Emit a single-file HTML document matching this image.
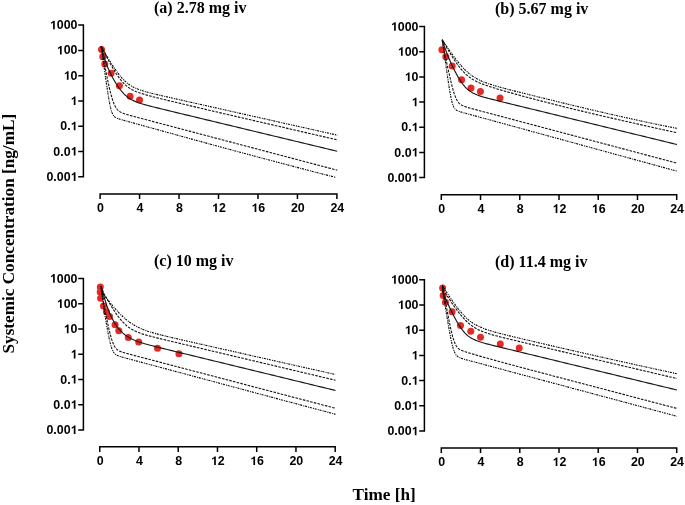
<!DOCTYPE html>
<html><head><meta charset="utf-8"><style>
html,body{margin:0;padding:0;background:#fff;}
body{width:685px;height:505px;overflow:hidden;position:relative;}
svg{position:absolute;left:0;top:0;filter:blur(0.35px);}
.tl{font-family:"Liberation Sans",sans-serif;font-weight:bold;font-size:12.4px;fill:#000;}
.tt{font-family:"Liberation Serif",serif;font-weight:bold;font-size:16px;fill:#000;}
.at{font-family:"Liberation Serif",serif;font-weight:bold;font-size:17.2px;fill:#000;}
.one{fill:transparent;}
</style></head><body>
<svg width="685" height="505" viewBox="0 0 685 505">
<path d="M78.20 25.10H83.40V176.80H78.20M78.20 50.38H83.40M78.20 75.67H83.40M78.20 100.95H83.40M78.20 126.23H83.40M78.20 151.52H83.40" stroke="#000" stroke-width="1.5" fill="none" stroke-linejoin="miter"/>
<text x="77.50" y="29.20" class="tl" text-anchor="end"><tspan class="one">1</tspan>000</text>
<text x="77.50" y="54.48" class="tl" text-anchor="end"><tspan class="one">1</tspan>00</text>
<text x="77.50" y="79.77" class="tl" text-anchor="end"><tspan class="one">1</tspan>0</text>
<text x="77.50" y="105.05" class="tl" text-anchor="end"><tspan class="one">1</tspan></text>
<text x="77.50" y="130.33" class="tl" text-anchor="end">0.<tspan class="one">1</tspan></text>
<text x="77.50" y="155.62" class="tl" text-anchor="end">0.0<tspan class="one">1</tspan></text>
<text x="77.50" y="180.90" class="tl" text-anchor="end">0.00<tspan class="one">1</tspan></text>
<path d="M100.10 199.10V193.90H336.90V199.10M139.57 193.90V199.10M179.03 193.90V199.10M218.50 193.90V199.10M257.97 193.90V199.10M297.43 193.90V199.10" stroke="#000" stroke-width="1.5" fill="none"/>
<text x="100.10" y="212.10" class="tl" text-anchor="middle" dx="0.4">0</text>
<text x="139.57" y="212.10" class="tl" text-anchor="middle" dx="0.4">4</text>
<text x="179.03" y="212.10" class="tl" text-anchor="middle" dx="0.4">8</text>
<text x="218.50" y="212.10" class="tl" text-anchor="middle" dx="0.4"><tspan class="one">1</tspan>2</text>
<text x="257.97" y="212.10" class="tl" text-anchor="middle" dx="0.4"><tspan class="one">1</tspan>6</text>
<text x="297.43" y="212.10" class="tl" text-anchor="middle" dx="0.4">20</text>
<text x="336.90" y="212.10" class="tl" text-anchor="middle" dx="0.4">24</text>
<text x="154.00" y="12.50" class="tt">(a) 2.78 mg iv</text>
<circle cx="101.5" cy="49.5" r="3.5" fill="#e42a24"/>
<circle cx="102.8" cy="56.7" r="3.5" fill="#e42a24"/>
<circle cx="104.8" cy="64.1" r="3.5" fill="#e42a24"/>
<circle cx="111.1" cy="73.2" r="3.5" fill="#e42a24"/>
<circle cx="119.4" cy="85.8" r="3.5" fill="#e42a24"/>
<circle cx="130.1" cy="96.3" r="3.5" fill="#e42a24"/>
<circle cx="139.5" cy="99.9" r="3.5" fill="#e42a24"/>
<polyline points="101.20,46.19 101.45,46.63 101.70,47.07 101.95,47.51 102.20,47.95 102.45,48.39 102.70,48.83 102.95,49.27 103.20,49.71 103.45,50.15 103.70,50.58 103.95,51.02 104.20,51.45 104.45,51.89 104.70,52.32 104.95,52.75 105.20,53.19 105.45,53.62 105.70,54.05 105.95,54.47 106.20,54.90 106.45,55.33 106.70,55.75 106.95,56.18 107.20,56.60 107.45,57.03 107.70,57.45 107.95,57.87 108.20,58.28 108.45,58.70 108.70,59.12 108.95,59.53 109.20,59.95 109.45,60.36 109.70,60.77 109.95,61.18 110.20,61.58 110.45,61.99 110.70,62.39 110.95,62.79 111.20,63.20 111.45,63.59 111.70,63.99 111.95,64.38 112.20,64.78 112.45,65.17 112.70,65.56 112.95,65.94 113.20,66.33 113.45,66.71 113.70,67.09 113.95,67.47 114.20,67.84 114.45,68.21 114.70,68.58 114.95,68.95 115.20,69.32 115.45,69.68 115.70,70.04 115.95,70.40 116.20,70.75 116.45,71.10 116.70,71.45 116.95,71.80 117.20,72.14 117.45,72.48 117.70,72.81 117.95,73.15 118.20,73.48 118.45,73.80 118.70,74.13 118.95,74.45 119.20,74.77 119.45,75.08 119.70,75.39 119.95,75.70 120.20,76.00 120.45,76.30 120.70,76.60 120.95,76.89 121.20,77.18 121.45,77.46 121.70,77.75 121.95,78.03 122.20,78.30 122.45,78.57 122.70,78.84 122.95,79.10 123.20,79.36 123.45,79.62 123.70,79.87 123.95,80.12 124.20,80.37 124.45,80.61 124.70,80.85 124.95,81.08 125.20,81.31 125.45,81.54 125.70,81.77 125.95,81.99 126.20,82.20 126.45,82.42 126.70,82.63 126.95,82.83 127.20,83.04 127.45,83.23 127.70,83.43 127.95,83.62 128.20,83.81 128.45,84.00 128.70,84.18 128.95,84.36 129.20,84.54 129.45,84.71 129.70,84.88 129.95,85.05 130.20,85.22 130.45,85.38 130.70,85.54 130.95,85.70 131.20,85.85 131.70,86.15 134.01,87.40 136.32,88.48 138.63,89.42 140.94,90.24 143.24,90.98 145.55,91.67 147.86,92.30 150.17,92.91 152.48,93.49 154.79,94.05 157.10,94.60 159.41,95.14 161.72,95.67 164.03,96.20 166.33,96.73 168.64,97.26 170.95,97.78 173.26,98.30 175.57,98.82 177.88,99.34 180.19,99.86 182.50,100.38 184.81,100.90 187.12,101.42 189.42,101.94 191.73,102.46 194.04,102.98 196.35,103.50 198.66,104.02 200.97,104.54 203.28,105.05 205.59,105.57 207.90,106.09 210.21,106.61 212.51,107.13 214.82,107.65 217.13,108.17 219.44,108.69 221.75,109.21 224.06,109.72 226.37,110.24 228.68,110.76 230.99,111.28 233.30,111.80 235.60,112.32 237.91,112.84 240.22,113.36 242.53,113.88 244.84,114.39 247.15,114.91 249.46,115.43 251.77,115.95 254.08,116.47 256.39,116.99 258.69,117.51 261.00,118.03 263.31,118.55 265.62,119.06 267.93,119.58 270.24,120.10 272.55,120.62 274.86,121.14 277.17,121.66 279.48,122.18 281.78,122.70 284.09,123.22 286.40,123.73 288.71,124.25 291.02,124.77 293.33,125.29 295.64,125.81 297.95,126.33 300.26,126.85 302.57,127.37 304.87,127.89 307.18,128.40 309.49,128.92 311.80,129.44 314.11,129.96 316.42,130.48 318.73,131.00 321.04,131.52 323.35,132.04 325.66,132.56 327.96,133.07 330.27,133.59 332.58,134.11 334.89,134.63 337.20,135.15" stroke="#000" stroke-width="1.1" stroke-dasharray="1 0.8 2 1.2" fill="none"/>
<polyline points="101.20,46.20 101.45,46.69 101.70,47.19 101.95,47.68 102.20,48.18 102.45,48.67 102.70,49.16 102.95,49.65 103.20,50.15 103.45,50.64 103.70,51.12 103.95,51.61 104.20,52.10 104.45,52.59 104.70,53.07 104.95,53.56 105.20,54.04 105.45,54.53 105.70,55.01 105.95,55.49 106.20,55.97 106.45,56.45 106.70,56.92 106.95,57.40 107.20,57.87 107.45,58.35 107.70,58.82 107.95,59.29 108.20,59.76 108.45,60.22 108.70,60.69 108.95,61.15 109.20,61.61 109.45,62.07 109.70,62.53 109.95,62.99 110.20,63.44 110.45,63.89 110.70,64.34 110.95,64.79 111.20,65.24 111.45,65.68 111.70,66.12 111.95,66.56 112.20,67.00 112.45,67.43 112.70,67.86 112.95,68.29 113.20,68.72 113.45,69.14 113.70,69.56 113.95,69.98 114.20,70.39 114.45,70.80 114.70,71.21 114.95,71.61 115.20,72.01 115.45,72.41 115.70,72.80 115.95,73.20 116.20,73.58 116.45,73.97 116.70,74.34 116.95,74.72 117.20,75.09 117.45,75.46 117.70,75.82 117.95,76.18 118.20,76.54 118.45,76.89 118.70,77.24 118.95,77.58 119.20,77.92 119.45,78.26 119.70,78.59 119.95,78.91 120.20,79.23 120.45,79.55 120.70,79.86 120.95,80.17 121.20,80.48 121.45,80.78 121.70,81.07 121.95,81.36 122.20,81.65 122.45,81.93 122.70,82.20 122.95,82.48 123.20,82.74 123.45,83.01 123.70,83.27 123.95,83.52 124.20,83.77 124.45,84.01 124.70,84.26 124.95,84.49 125.20,84.72 125.45,84.95 125.70,85.18 125.95,85.40 126.20,85.61 126.45,85.82 126.70,86.03 126.95,86.23 127.20,86.43 127.45,86.63 127.70,86.82 127.95,87.01 128.20,87.19 128.45,87.38 128.70,87.55 128.95,87.73 129.20,87.90 129.45,88.07 129.70,88.23 129.95,88.39 130.20,88.55 130.45,88.71 130.70,88.86 130.95,89.01 131.20,89.15 131.70,89.44 134.01,90.63 136.32,91.65 138.63,92.54 140.94,93.34 143.24,94.07 145.55,94.75 147.86,95.39 150.17,96.01 152.48,96.62 154.79,97.21 157.10,97.79 159.41,98.36 161.72,98.93 164.03,99.50 166.33,100.06 168.64,100.62 170.95,101.17 173.26,101.73 175.57,102.28 177.88,102.83 180.19,103.38 182.50,103.93 184.81,104.48 187.12,105.03 189.42,105.57 191.73,106.12 194.04,106.66 196.35,107.20 198.66,107.75 200.97,108.29 203.28,108.83 205.59,109.37 207.90,109.91 210.21,110.45 212.51,110.99 214.82,111.53 217.13,112.07 219.44,112.61 221.75,113.14 224.06,113.68 226.37,114.22 228.68,114.76 230.99,115.29 233.30,115.83 235.60,116.36 237.91,116.90 240.22,117.44 242.53,117.97 244.84,118.51 247.15,119.04 249.46,119.58 251.77,120.11 254.08,120.64 256.39,121.18 258.69,121.71 261.00,122.25 263.31,122.78 265.62,123.31 267.93,123.85 270.24,124.38 272.55,124.91 274.86,125.45 277.17,125.98 279.48,126.51 281.78,127.05 284.09,127.58 286.40,128.11 288.71,128.65 291.02,129.18 293.33,129.71 295.64,130.25 297.95,130.78 300.26,131.31 302.57,131.84 304.87,132.38 307.18,132.91 309.49,133.44 311.80,133.97 314.11,134.51 316.42,135.04 318.73,135.57 321.04,136.10 323.35,136.64 325.66,137.17 327.96,137.70 330.27,138.23 332.58,138.77 334.89,139.30 337.20,139.83" stroke="#111" stroke-width="1.1" stroke-dasharray="2.6 1.2" fill="none"/>
<polyline points="101.20,46.20 101.45,47.23 101.70,48.25 101.95,49.25 102.20,50.22 102.45,51.18 102.70,52.12 102.95,53.04 103.20,53.94 103.45,54.83 103.70,55.69 103.95,56.53 104.20,57.36 104.45,58.16 104.70,58.95 104.95,59.73 105.20,60.48 105.45,61.22 105.70,61.94 105.95,62.65 106.20,63.34 106.45,64.02 106.70,64.68 106.95,65.34 107.20,65.97 107.45,66.60 107.70,67.21 107.95,67.82 108.20,68.41 108.45,68.99 108.70,69.57 108.95,70.13 109.20,70.69 109.45,71.23 109.70,71.77 109.95,72.30 110.20,72.83 110.45,73.34 110.70,73.85 110.95,74.36 111.20,74.85 111.45,75.35 111.70,75.83 111.95,76.31 112.20,76.78 112.45,77.25 112.70,77.72 112.95,78.18 113.20,78.63 113.45,79.08 113.70,79.52 113.95,79.96 114.20,80.40 114.45,80.83 114.70,81.25 114.95,81.68 115.20,82.09 115.45,82.50 115.70,82.91 115.95,83.32 116.20,83.71 116.45,84.11 116.70,84.50 116.95,84.89 117.20,85.27 117.45,85.64 117.70,86.02 117.95,86.38 118.20,86.75 118.45,87.11 118.70,87.46 118.95,87.81 119.20,88.15 119.45,88.49 119.70,88.83 119.95,89.16 120.20,89.49 120.45,89.81 120.70,90.12 120.95,90.44 121.20,90.74 121.45,91.05 121.70,91.34 121.95,91.64 122.20,91.92 122.45,92.21 122.70,92.49 122.95,92.76 123.20,93.03 123.45,93.29 123.70,93.56 123.95,93.81 124.20,94.06 124.45,94.31 124.70,94.55 124.95,94.79 125.20,95.02 125.45,95.25 125.70,95.47 125.95,95.69 126.20,95.91 126.45,96.12 126.70,96.33 126.95,96.53 127.20,96.73 127.45,96.92 127.70,97.12 127.95,97.30 128.20,97.49 128.45,97.67 128.70,97.84 128.95,98.02 129.20,98.19 129.45,98.35 129.70,98.52 129.95,98.68 130.20,98.83 130.45,98.99 130.70,99.14 130.95,99.28 131.20,99.43 131.70,99.71 134.01,100.88 136.32,101.88 138.63,102.74 140.94,103.52 143.24,104.23 145.55,104.89 147.86,105.52 150.17,106.12 152.48,106.71 154.79,107.29 157.10,107.86 159.41,108.43 161.72,108.99 164.03,109.55 166.33,110.11 168.64,110.67 170.95,111.23 173.26,111.79 175.57,112.34 177.88,112.90 180.19,113.46 182.50,114.01 184.81,114.57 187.12,115.12 189.42,115.68 191.73,116.23 194.04,116.79 196.35,117.35 198.66,117.90 200.97,118.46 203.28,119.01 205.59,119.57 207.90,120.13 210.21,120.68 212.51,121.24 214.82,121.79 217.13,122.35 219.44,122.91 221.75,123.46 224.06,124.02 226.37,124.57 228.68,125.13 230.99,125.68 233.30,126.24 235.60,126.80 237.91,127.35 240.22,127.91 242.53,128.46 244.84,129.02 247.15,129.58 249.46,130.13 251.77,130.69 254.08,131.24 256.39,131.80 258.69,132.35 261.00,132.91 263.31,133.47 265.62,134.02 267.93,134.58 270.24,135.13 272.55,135.69 274.86,136.25 277.17,136.80 279.48,137.36 281.78,137.91 284.09,138.47 286.40,139.02 288.71,139.58 291.02,140.14 293.33,140.69 295.64,141.25 297.95,141.80 300.26,142.36 302.57,142.92 304.87,143.47 307.18,144.03 309.49,144.58 311.80,145.14 314.11,145.69 316.42,146.25 318.73,146.81 321.04,147.36 323.35,147.92 325.66,148.47 327.96,149.03 330.27,149.59 332.58,150.14 334.89,150.70 337.20,151.25" stroke="#181818" stroke-width="1.15" fill="none"/>
<polyline points="101.20,46.20 101.45,47.60 101.70,48.99 101.95,50.37 102.20,51.76 102.45,53.13 102.70,54.50 102.95,55.87 103.20,57.23 103.45,58.58 103.70,59.93 103.95,61.27 104.20,62.60 104.45,63.93 104.70,65.25 104.95,66.56 105.20,67.86 105.45,69.16 105.70,70.44 105.95,71.72 106.20,72.98 106.45,74.24 106.70,75.48 106.95,76.72 107.20,77.94 107.45,79.15 107.70,80.34 107.95,81.53 108.20,82.69 108.45,83.84 108.70,84.98 108.95,86.10 109.20,87.20 109.45,88.28 109.70,89.34 109.95,90.38 110.20,91.40 110.45,92.40 110.70,93.37 110.95,94.32 111.20,95.25 111.45,96.15 111.70,97.02 111.95,97.86 112.20,98.68 112.45,99.47 112.70,100.23 112.95,100.96 113.20,101.67 113.45,102.34 113.70,102.99 113.95,103.60 114.20,104.19 114.45,104.75 114.70,105.28 114.95,105.79 115.20,106.27 115.45,106.72 115.70,107.15 115.95,107.56 116.20,107.95 116.45,108.31 116.70,108.65 116.95,108.97 117.20,109.28 117.45,109.57 117.70,109.84 117.95,110.09 118.20,110.33 118.45,110.56 118.70,110.78 118.95,110.98 119.20,111.17 119.45,111.36 119.70,111.53 119.95,111.69 120.20,111.85 120.45,112.00 120.70,112.14 120.95,112.28 121.20,112.41 121.45,112.54 121.70,112.66 121.95,112.77 122.20,112.89 122.45,112.99 122.70,113.10 122.95,113.20 123.20,113.30 123.45,113.39 123.70,113.49 123.95,113.58 124.20,113.67 124.45,113.75 124.70,113.84 124.95,113.92 125.20,114.01 125.45,114.09 125.70,114.17 125.95,114.24 126.20,114.32 126.45,114.40 126.70,114.47 126.95,114.55 127.20,114.62 127.45,114.70 127.70,114.77 127.95,114.84 128.20,114.91 128.45,114.98 128.70,115.06 128.95,115.13 129.20,115.20 129.45,115.27 129.70,115.34 129.95,115.40 130.20,115.47 130.45,115.54 130.70,115.61 130.95,115.68 131.20,115.75 131.70,115.88 134.01,116.50 136.32,117.12 138.63,117.73 140.94,118.34 143.24,118.95 145.55,119.56 147.86,120.17 150.17,120.78 152.48,121.39 154.79,122.00 157.10,122.61 159.41,123.22 161.72,123.83 164.03,124.44 166.33,125.05 168.64,125.66 170.95,126.27 173.26,126.88 175.57,127.49 177.88,128.10 180.19,128.71 182.50,129.32 184.81,129.93 187.12,130.54 189.42,131.15 191.73,131.76 194.04,132.37 196.35,132.98 198.66,133.59 200.97,134.20 203.28,134.81 205.59,135.42 207.90,136.03 210.21,136.64 212.51,137.25 214.82,137.86 217.13,138.47 219.44,139.08 221.75,139.69 224.06,140.30 226.37,140.91 228.68,141.52 230.99,142.13 233.30,142.74 235.60,143.35 237.91,143.96 240.22,144.57 242.53,145.18 244.84,145.79 247.15,146.40 249.46,147.01 251.77,147.62 254.08,148.23 256.39,148.84 258.69,149.45 261.00,150.06 263.31,150.67 265.62,151.28 267.93,151.89 270.24,152.50 272.55,153.11 274.86,153.72 277.17,154.33 279.48,154.94 281.78,155.55 284.09,156.17 286.40,156.78 288.71,157.39 291.02,158.00 293.33,158.61 295.64,159.22 297.95,159.83 300.26,160.44 302.57,161.05 304.87,161.66 307.18,162.27 309.49,162.88 311.80,163.49 314.11,164.10 316.42,164.71 318.73,165.32 321.04,165.93 323.35,166.54 325.66,167.15 327.96,167.76 330.27,168.37 332.58,168.98 334.89,169.59 337.20,170.20" stroke="#111" stroke-width="1.1" stroke-dasharray="2.6 1.2" fill="none"/>
<polyline points="101.20,46.20 101.45,48.01 101.70,49.81 101.95,51.62 102.20,53.42 102.45,55.22 102.70,57.03 102.95,58.83 103.20,60.63 103.45,62.42 103.70,64.22 103.95,66.01 104.20,67.80 104.45,69.58 104.70,71.36 104.95,73.14 105.20,74.91 105.45,76.67 105.70,78.42 105.95,80.17 106.20,81.90 106.45,83.63 106.70,85.33 106.95,87.02 107.20,88.70 107.45,90.35 107.70,91.97 107.95,93.57 108.20,95.14 108.45,96.67 108.70,98.16 108.95,99.61 109.20,101.01 109.45,102.36 109.70,103.65 109.95,104.89 110.20,106.06 110.45,107.17 110.70,108.21 110.95,109.18 111.20,110.08 111.45,110.91 111.70,111.68 111.95,112.38 112.20,113.02 112.45,113.60 112.70,114.12 112.95,114.59 113.20,115.02 113.45,115.40 113.70,115.75 113.95,116.06 114.20,116.34 114.45,116.59 114.70,116.81 114.95,117.02 115.20,117.21 115.45,117.38 115.70,117.54 115.95,117.68 116.20,117.81 116.45,117.94 116.70,118.06 116.95,118.17 117.20,118.27 117.45,118.37 117.70,118.47 117.95,118.56 118.20,118.65 118.45,118.73 118.70,118.81 118.95,118.90 119.20,118.98 119.45,119.05 119.70,119.13 119.95,119.21 120.20,119.28 120.45,119.35 120.70,119.43 120.95,119.50 121.20,119.57 121.45,119.65 121.70,119.72 121.95,119.79 122.20,119.86 122.45,119.93 122.70,120.00 122.95,120.07 123.20,120.14 123.45,120.21 123.70,120.28 123.95,120.35 124.20,120.42 124.45,120.49 124.70,120.56 124.95,120.63 125.20,120.70 125.45,120.77 125.70,120.84 125.95,120.91 126.20,120.98 126.45,121.05 126.70,121.12 126.95,121.19 127.20,121.26 127.45,121.33 127.70,121.40 127.95,121.47 128.20,121.54 128.45,121.61 128.70,121.68 128.95,121.75 129.20,121.82 129.45,121.89 129.70,121.96 129.95,122.02 130.20,122.09 130.45,122.16 130.70,122.23 130.95,122.30 131.20,122.37 131.70,122.51 134.01,123.15 136.32,123.79 138.63,124.44 140.94,125.08 143.24,125.72 145.55,126.36 147.86,127.00 150.17,127.64 152.48,128.28 154.79,128.92 157.10,129.55 159.41,130.19 161.72,130.83 164.03,131.47 166.33,132.11 168.64,132.74 170.95,133.38 173.26,134.02 175.57,134.65 177.88,135.29 180.19,135.92 182.50,136.56 184.81,137.19 187.12,137.83 189.42,138.46 191.73,139.10 194.04,139.73 196.35,140.36 198.66,140.99 200.97,141.62 203.28,142.26 205.59,142.89 207.90,143.52 210.21,144.15 212.51,144.77 214.82,145.40 217.13,146.03 219.44,146.66 221.75,147.29 224.06,147.91 226.37,148.54 228.68,149.16 230.99,149.79 233.30,150.41 235.60,151.04 237.91,151.66 240.22,152.28 242.53,152.90 244.84,153.53 247.15,154.15 249.46,154.77 251.77,155.38 254.08,156.00 256.39,156.62 258.69,157.24 261.00,157.85 263.31,158.47 265.62,159.08 267.93,159.70 270.24,160.31 272.55,160.92 274.86,161.54 277.17,162.15 279.48,162.76 281.78,163.37 284.09,163.98 286.40,164.58 288.71,165.19 291.02,165.80 293.33,166.40 295.64,167.00 297.95,167.61 300.26,168.21 302.57,168.81 304.87,169.41 307.18,170.01 309.49,170.61 311.80,171.21 314.11,171.80 316.42,172.40 318.73,172.99 321.04,173.59 323.35,174.18 325.66,174.77 327.96,175.36 330.27,175.95 332.58,176.54 334.89,177.12 335.98,177.40" stroke="#000" stroke-width="1.1" stroke-dasharray="1 0.8 2 1.2" fill="none"/>
<path d="M419.20 26.60H424.40V177.60H419.20M419.20 51.77H424.40M419.20 76.93H424.40M419.20 102.10H424.40M419.20 127.27H424.40M419.20 152.43H424.40" stroke="#000" stroke-width="1.5" fill="none" stroke-linejoin="miter"/>
<text x="418.50" y="30.70" class="tl" text-anchor="end"><tspan class="one">1</tspan>000</text>
<text x="418.50" y="55.87" class="tl" text-anchor="end"><tspan class="one">1</tspan>00</text>
<text x="418.50" y="81.03" class="tl" text-anchor="end"><tspan class="one">1</tspan>0</text>
<text x="418.50" y="106.20" class="tl" text-anchor="end"><tspan class="one">1</tspan></text>
<text x="418.50" y="131.37" class="tl" text-anchor="end">0.<tspan class="one">1</tspan></text>
<text x="418.50" y="156.53" class="tl" text-anchor="end">0.0<tspan class="one">1</tspan></text>
<text x="418.50" y="181.70" class="tl" text-anchor="end">0.00<tspan class="one">1</tspan></text>
<path d="M441.30 199.90V194.70H676.70V199.90M480.53 194.70V199.90M519.77 194.70V199.90M559.00 194.70V199.90M598.23 194.70V199.90M637.47 194.70V199.90" stroke="#000" stroke-width="1.5" fill="none"/>
<text x="441.30" y="212.90" class="tl" text-anchor="middle" dx="0.4">0</text>
<text x="480.53" y="212.90" class="tl" text-anchor="middle" dx="0.4">4</text>
<text x="519.77" y="212.90" class="tl" text-anchor="middle" dx="0.4">8</text>
<text x="559.00" y="212.90" class="tl" text-anchor="middle" dx="0.4"><tspan class="one">1</tspan>2</text>
<text x="598.23" y="212.90" class="tl" text-anchor="middle" dx="0.4"><tspan class="one">1</tspan>6</text>
<text x="637.47" y="212.90" class="tl" text-anchor="middle" dx="0.4">20</text>
<text x="676.70" y="212.90" class="tl" text-anchor="middle" dx="0.4">24</text>
<text x="495.00" y="13.50" class="tt">(b) 5.67 mg iv</text>
<circle cx="441.9" cy="49.7" r="3.5" fill="#e42a24"/>
<circle cx="445.8" cy="56.8" r="3.5" fill="#e42a24"/>
<circle cx="452.2" cy="65.9" r="3.5" fill="#e42a24"/>
<circle cx="461.6" cy="79.7" r="3.5" fill="#e42a24"/>
<circle cx="471.0" cy="88.0" r="3.5" fill="#e42a24"/>
<circle cx="480.4" cy="91.4" r="3.5" fill="#e42a24"/>
<circle cx="500.0" cy="98.1" r="3.5" fill="#e42a24"/>
<polyline points="442.30,39.80 442.55,40.18 442.80,40.55 443.05,40.93 443.30,41.31 443.55,41.69 443.80,42.07 444.05,42.44 444.30,42.82 444.55,43.19 444.80,43.57 445.05,43.94 445.30,44.32 445.55,44.69 445.80,45.06 446.05,45.43 446.30,45.80 446.55,46.17 446.80,46.54 447.05,46.91 447.30,47.28 447.55,47.64 447.80,48.01 448.05,48.38 448.30,48.74 448.55,49.10 448.80,49.47 449.05,49.83 449.30,50.19 449.55,50.55 449.80,50.91 450.05,51.26 450.30,51.62 450.55,51.98 450.80,52.33 451.05,52.69 451.30,53.04 451.55,53.39 451.80,53.74 452.05,54.09 452.30,54.43 452.55,54.78 452.80,55.12 453.05,55.47 453.30,55.81 453.55,56.15 453.80,56.49 454.05,56.83 454.30,57.16 454.55,57.50 454.80,57.83 455.05,58.16 455.30,58.49 455.55,58.82 455.80,59.15 456.05,59.48 456.30,59.80 456.55,60.12 456.80,60.44 457.05,60.76 457.30,61.07 457.55,61.39 457.80,61.70 458.05,62.01 458.30,62.32 458.55,62.63 458.80,62.93 459.05,63.23 459.30,63.54 459.55,63.83 459.80,64.13 460.05,64.42 460.30,64.72 460.55,65.01 460.80,65.29 461.05,65.58 461.30,65.86 461.55,66.14 461.80,66.42 462.05,66.70 462.30,66.97 462.55,67.24 462.80,67.51 463.05,67.78 463.30,68.05 463.55,68.31 463.80,68.57 464.05,68.82 464.30,69.08 464.55,69.33 464.80,69.58 465.05,69.83 465.30,70.07 465.55,70.31 465.80,70.55 466.05,70.79 466.30,71.03 466.55,71.26 466.80,71.49 467.05,71.71 467.30,71.94 467.55,72.16 467.80,72.38 468.05,72.60 468.30,72.81 468.55,73.02 468.80,73.23 469.05,73.44 469.30,73.64 469.55,73.84 469.80,74.04 470.05,74.24 470.30,74.44 470.55,74.63 470.80,74.82 471.05,75.01 471.30,75.19 471.55,75.37 471.80,75.55 472.05,75.73 472.30,75.91 472.80,76.25 475.09,77.72 477.39,79.03 479.68,80.19 481.98,81.24 484.27,82.18 486.57,83.04 488.86,83.84 491.16,84.59 493.45,85.30 495.74,85.98 498.04,86.63 500.33,87.27 502.63,87.89 504.92,88.50 507.22,89.10 509.51,89.69 511.80,90.28 514.10,90.87 516.39,91.45 518.69,92.03 520.98,92.61 523.28,93.19 525.57,93.76 527.87,94.33 530.16,94.91 532.45,95.48 534.75,96.05 537.04,96.62 539.34,97.18 541.63,97.75 543.93,98.32 546.22,98.88 548.51,99.45 550.81,100.01 553.10,100.57 555.40,101.13 557.69,101.69 559.99,102.25 562.28,102.81 564.58,103.36 566.87,103.92 569.16,104.47 571.46,105.03 573.75,105.58 576.05,106.13 578.34,106.68 580.64,107.22 582.93,107.77 585.22,108.32 587.52,108.86 589.81,109.40 592.11,109.94 594.40,110.48 596.70,111.01 598.99,111.55 601.29,112.08 603.58,112.61 605.87,113.14 608.17,113.67 610.46,114.20 612.76,114.72 615.05,115.24 617.35,115.76 619.64,116.28 621.93,116.79 624.23,117.31 626.52,117.82 628.82,118.32 631.11,118.83 633.41,119.33 635.70,119.83 638.00,120.33 640.29,120.83 642.58,121.32 644.88,121.81 647.17,122.30 649.47,122.78 651.76,123.27 654.06,123.75 656.35,124.22 658.64,124.70 660.94,125.17 663.23,125.63 665.53,126.10 667.82,126.56 670.12,127.02 672.41,127.47 674.71,127.92 677.00,128.37" stroke="#000" stroke-width="1.1" stroke-dasharray="1 0.8 2 1.2" fill="none"/>
<polyline points="442.30,39.78 442.55,40.23 442.80,40.67 443.05,41.12 443.30,41.56 443.55,42.01 443.80,42.45 444.05,42.89 444.30,43.33 444.55,43.77 444.80,44.21 445.05,44.65 445.30,45.08 445.55,45.52 445.80,45.95 446.05,46.39 446.30,46.82 446.55,47.25 446.80,47.68 447.05,48.11 447.30,48.54 447.55,48.97 447.80,49.40 448.05,49.82 448.30,50.24 448.55,50.67 448.80,51.09 449.05,51.51 449.30,51.92 449.55,52.34 449.80,52.75 450.05,53.17 450.30,53.58 450.55,53.99 450.80,54.40 451.05,54.80 451.30,55.21 451.55,55.61 451.80,56.01 452.05,56.41 452.30,56.81 452.55,57.20 452.80,57.59 453.05,57.98 453.30,58.37 453.55,58.76 453.80,59.14 454.05,59.52 454.30,59.90 454.55,60.28 454.80,60.65 455.05,61.02 455.30,61.39 455.55,61.76 455.80,62.12 456.05,62.48 456.30,62.84 456.55,63.20 456.80,63.55 457.05,63.90 457.30,64.25 457.55,64.59 457.80,64.93 458.05,65.27 458.30,65.61 458.55,65.94 458.80,66.27 459.05,66.59 459.30,66.91 459.55,67.23 459.80,67.55 460.05,67.86 460.30,68.17 460.55,68.48 460.80,68.78 461.05,69.08 461.30,69.37 461.55,69.67 461.80,69.96 462.05,70.24 462.30,70.52 462.55,70.80 462.80,71.08 463.05,71.35 463.30,71.62 463.55,71.88 463.80,72.14 464.05,72.40 464.30,72.65 464.55,72.90 464.80,73.15 465.05,73.40 465.30,73.64 465.55,73.87 465.80,74.11 466.05,74.34 466.30,74.56 466.55,74.79 466.80,75.01 467.05,75.23 467.30,75.44 467.55,75.65 467.80,75.86 468.05,76.06 468.30,76.27 468.55,76.46 468.80,76.66 469.05,76.85 469.30,77.04 469.55,77.23 469.80,77.41 470.05,77.59 470.30,77.77 470.55,77.95 470.80,78.12 471.05,78.29 471.30,78.46 471.55,78.63 471.80,78.79 472.05,78.95 472.30,79.11 472.80,79.42 475.09,80.73 477.39,81.89 479.68,82.93 481.98,83.87 484.27,84.74 486.57,85.56 488.86,86.33 491.16,87.07 493.45,87.79 495.74,88.49 498.04,89.18 500.33,89.85 502.63,90.52 504.92,91.18 507.22,91.83 509.51,92.48 511.80,93.12 514.10,93.75 516.39,94.39 518.69,95.01 520.98,95.64 523.28,96.26 525.57,96.88 527.87,97.49 530.16,98.10 532.45,98.71 534.75,99.31 537.04,99.91 539.34,100.51 541.63,101.11 543.93,101.70 546.22,102.29 548.51,102.88 550.81,103.46 553.10,104.04 555.40,104.62 557.69,105.20 559.99,105.77 562.28,106.34 564.58,106.91 566.87,107.48 569.16,108.04 571.46,108.60 573.75,109.16 576.05,109.72 578.34,110.27 580.64,110.83 582.93,111.38 585.22,111.92 587.52,112.47 589.81,113.02 592.11,113.56 594.40,114.10 596.70,114.64 598.99,115.18 601.29,115.71 603.58,116.25 605.87,116.78 608.17,117.31 610.46,117.84 612.76,118.37 615.05,118.90 617.35,119.43 619.64,119.95 621.93,120.47 624.23,121.00 626.52,121.52 628.82,122.04 631.11,122.55 633.41,123.07 635.70,123.59 638.00,124.10 640.29,124.62 642.58,125.13 644.88,125.64 647.17,126.16 649.47,126.67 651.76,127.18 654.06,127.68 656.35,128.19 658.64,128.70 660.94,129.21 663.23,129.71 665.53,130.22 667.82,130.72 670.12,131.23 672.41,131.73 674.71,132.23 677.00,132.73" stroke="#111" stroke-width="1.1" stroke-dasharray="2.6 1.2" fill="none"/>
<polyline points="442.30,39.80 442.55,40.64 442.80,41.46 443.05,42.27 443.30,43.07 443.55,43.85 443.80,44.62 444.05,45.38 444.30,46.13 444.55,46.87 444.80,47.59 445.05,48.31 445.30,49.01 445.55,49.71 445.80,50.39 446.05,51.07 446.30,51.74 446.55,52.40 446.80,53.05 447.05,53.69 447.30,54.33 447.55,54.96 447.80,55.58 448.05,56.19 448.30,56.80 448.55,57.40 448.80,58.00 449.05,58.59 449.30,59.18 449.55,59.76 449.80,60.33 450.05,60.90 450.30,61.47 450.55,62.03 450.80,62.59 451.05,63.14 451.30,63.69 451.55,64.23 451.80,64.77 452.05,65.30 452.30,65.83 452.55,66.36 452.80,66.88 453.05,67.40 453.30,67.92 453.55,68.43 453.80,68.93 454.05,69.44 454.30,69.94 454.55,70.43 454.80,70.92 455.05,71.41 455.30,71.89 455.55,72.37 455.80,72.84 456.05,73.31 456.30,73.77 456.55,74.23 456.80,74.69 457.05,75.14 457.30,75.59 457.55,76.03 457.80,76.47 458.05,76.90 458.30,77.33 458.55,77.75 458.80,78.17 459.05,78.58 459.30,78.99 459.55,79.39 459.80,79.78 460.05,80.17 460.30,80.56 460.55,80.94 460.80,81.31 461.05,81.68 461.30,82.05 461.55,82.40 461.80,82.76 462.05,83.10 462.30,83.44 462.55,83.78 462.80,84.11 463.05,84.43 463.30,84.74 463.55,85.06 463.80,85.36 464.05,85.66 464.30,85.95 464.55,86.24 464.80,86.52 465.05,86.80 465.30,87.07 465.55,87.34 465.80,87.60 466.05,87.85 466.30,88.10 466.55,88.34 466.80,88.58 467.05,88.81 467.30,89.04 467.55,89.26 467.80,89.48 468.05,89.69 468.30,89.90 468.55,90.10 468.80,90.30 469.05,90.49 469.30,90.68 469.55,90.87 469.80,91.05 470.05,91.22 470.30,91.40 470.55,91.56 470.80,91.73 471.05,91.89 471.30,92.05 471.55,92.20 471.80,92.35 472.05,92.50 472.30,92.64 472.80,92.92 475.09,94.06 477.39,95.01 479.68,95.84 481.98,96.58 484.27,97.26 486.57,97.90 488.86,98.51 491.16,99.10 493.45,99.68 495.74,100.26 498.04,100.83 500.33,101.39 502.63,101.96 504.92,102.52 507.22,103.08 509.51,103.64 511.80,104.20 514.10,104.76 516.39,105.32 518.69,105.89 520.98,106.45 523.28,107.01 525.57,107.57 527.87,108.13 530.16,108.69 532.45,109.25 534.75,109.81 537.04,110.36 539.34,110.92 541.63,111.48 543.93,112.04 546.22,112.60 548.51,113.16 550.81,113.72 553.10,114.28 555.40,114.84 557.69,115.40 559.99,115.96 562.28,116.52 564.58,117.08 566.87,117.64 569.16,118.20 571.46,118.76 573.75,119.32 576.05,119.88 578.34,120.44 580.64,121.00 582.93,121.56 585.22,122.12 587.52,122.68 589.81,123.24 592.11,123.80 594.40,124.36 596.70,124.92 598.99,125.48 601.29,126.04 603.58,126.60 605.87,127.16 608.17,127.72 610.46,128.28 612.76,128.84 615.05,129.40 617.35,129.96 619.64,130.52 621.93,131.08 624.23,131.64 626.52,132.20 628.82,132.76 631.11,133.32 633.41,133.88 635.70,134.44 638.00,135.00 640.29,135.56 642.58,136.12 644.88,136.68 647.17,137.24 649.47,137.80 651.76,138.36 654.06,138.92 656.35,139.48 658.64,140.04 660.94,140.60 663.23,141.16 665.53,141.72 667.82,142.28 670.12,142.84 672.41,143.40 674.71,143.96 677.00,144.52" stroke="#181818" stroke-width="1.15" fill="none"/>
<polyline points="442.30,39.80 442.55,43.27 442.80,44.46 443.05,45.64 443.30,46.83 443.55,48.01 443.80,49.19 444.05,50.37 444.30,51.55 444.55,52.73 444.80,53.91 445.05,55.08 445.30,56.26 445.55,57.43 445.80,58.60 446.05,59.77 446.30,60.93 446.55,62.10 446.80,63.26 447.05,64.41 447.30,65.57 447.55,66.71 447.80,67.86 448.05,69.00 448.30,70.13 448.55,71.26 448.80,72.39 449.05,73.50 449.30,74.61 449.55,75.71 449.80,76.80 450.05,77.89 450.30,78.96 450.55,80.02 450.80,81.06 451.05,82.10 451.30,83.12 451.55,84.12 451.80,85.11 452.05,86.08 452.30,87.03 452.55,87.96 452.80,88.87 453.05,89.75 453.30,90.62 453.55,91.46 453.80,92.27 454.05,93.06 454.30,93.82 454.55,94.55 454.80,95.26 455.05,95.94 455.30,96.58 455.55,97.20 455.80,97.79 456.05,98.35 456.30,98.89 456.55,99.39 456.80,99.87 457.05,100.32 457.30,100.75 457.55,101.15 457.80,101.53 458.05,101.88 458.30,102.22 458.55,102.53 458.80,102.82 459.05,103.10 459.30,103.36 459.55,103.60 459.80,103.83 460.05,104.04 460.30,104.24 460.55,104.43 460.80,104.61 461.05,104.78 461.30,104.94 461.55,105.09 461.80,105.24 462.05,105.37 462.30,105.50 462.55,105.63 462.80,105.75 463.05,105.86 463.30,105.97 463.55,106.08 463.80,106.18 464.05,106.28 464.30,106.37 464.55,106.46 464.80,106.55 465.05,106.64 465.30,106.73 465.55,106.81 465.80,106.89 466.05,106.97 466.30,107.05 466.55,107.13 466.80,107.21 467.05,107.28 467.30,107.36 467.55,107.43 467.80,107.51 468.05,107.58 468.30,107.65 468.55,107.72 468.80,107.79 469.05,107.87 469.30,107.94 469.55,108.01 469.80,108.07 470.05,108.14 470.30,108.21 470.55,108.28 470.80,108.35 471.05,108.42 471.30,108.49 471.55,108.55 471.80,108.62 472.05,108.69 472.30,108.76 472.80,108.89 475.09,109.51 477.39,110.12 479.68,110.73 481.98,111.34 484.27,111.95 486.57,112.56 488.86,113.17 491.16,113.78 493.45,114.39 495.74,115.00 498.04,115.61 500.33,116.22 502.63,116.83 504.92,117.44 507.22,118.05 509.51,118.66 511.80,119.27 514.10,119.88 516.39,120.49 518.69,121.10 520.98,121.71 523.28,122.31 525.57,122.92 527.87,123.53 530.16,124.14 532.45,124.75 534.75,125.36 537.04,125.97 539.34,126.58 541.63,127.19 543.93,127.80 546.22,128.41 548.51,129.02 550.81,129.63 553.10,130.24 555.40,130.85 557.69,131.46 559.99,132.07 562.28,132.68 564.58,133.29 566.87,133.90 569.16,134.51 571.46,135.12 573.75,135.73 576.05,136.34 578.34,136.95 580.64,137.56 582.93,138.17 585.22,138.78 587.52,139.39 589.81,140.00 592.11,140.61 594.40,141.22 596.70,141.83 598.99,142.44 601.29,143.05 603.58,143.66 605.87,144.27 608.17,144.87 610.46,145.48 612.76,146.09 615.05,146.70 617.35,147.31 619.64,147.92 621.93,148.53 624.23,149.14 626.52,149.75 628.82,150.36 631.11,150.97 633.41,151.58 635.70,152.19 638.00,152.80 640.29,153.41 642.58,154.02 644.88,154.63 647.17,155.24 649.47,155.85 651.76,156.46 654.06,157.07 656.35,157.68 658.64,158.29 660.94,158.90 663.23,159.51 665.53,160.12 667.82,160.73 670.12,161.34 672.41,161.95 674.71,162.56 677.00,163.17" stroke="#111" stroke-width="1.1" stroke-dasharray="2.6 1.2" fill="none"/>
<polyline points="442.30,39.80 442.55,41.59 442.80,43.38 443.05,45.16 443.30,46.95 443.55,48.74 443.80,50.52 444.05,52.31 444.30,54.09 444.55,55.87 444.80,57.65 445.05,59.42 445.30,61.19 445.55,62.96 445.80,64.72 446.05,66.48 446.30,68.23 446.55,69.98 446.80,71.71 447.05,73.44 447.30,75.16 447.55,76.86 447.80,78.55 448.05,80.23 448.30,81.88 448.55,83.51 448.80,85.12 449.05,86.70 449.30,88.25 449.55,89.76 449.80,91.24 450.05,92.67 450.30,94.05 450.55,95.38 450.80,96.66 451.05,97.88 451.30,99.03 451.55,100.12 451.80,101.15 452.05,102.11 452.30,103.00 452.55,103.82 452.80,104.57 453.05,105.26 453.30,105.89 453.55,106.47 453.80,106.98 454.05,107.45 454.30,107.87 454.55,108.25 454.80,108.59 455.05,108.90 455.30,109.17 455.55,109.42 455.80,109.65 456.05,109.85 456.30,110.03 456.55,110.20 456.80,110.36 457.05,110.50 457.30,110.63 457.55,110.76 457.80,110.87 458.05,110.98 458.30,111.09 458.55,111.18 458.80,111.28 459.05,111.37 459.30,111.46 459.55,111.54 459.80,111.62 460.05,111.70 460.30,111.78 460.55,111.86 460.80,111.93 461.05,112.01 461.30,112.08 461.55,112.15 461.80,112.23 462.05,112.30 462.30,112.37 462.55,112.44 462.80,112.51 463.05,112.58 463.30,112.65 463.55,112.72 463.80,112.79 464.05,112.86 464.30,112.93 464.55,113.00 464.80,113.07 465.05,113.14 465.30,113.21 465.55,113.27 465.80,113.34 466.05,113.41 466.30,113.48 466.55,113.55 466.80,113.62 467.05,113.69 467.30,113.75 467.55,113.82 467.80,113.89 468.05,113.96 468.30,114.03 468.55,114.10 468.80,114.17 469.05,114.23 469.30,114.30 469.55,114.37 469.80,114.44 470.05,114.51 470.30,114.58 470.55,114.64 470.80,114.71 471.05,114.78 471.30,114.85 471.55,114.92 471.80,114.99 472.05,115.06 472.30,115.12 472.80,115.26 475.09,115.89 477.39,116.52 479.68,117.15 481.98,117.77 484.27,118.40 486.57,119.03 488.86,119.66 491.16,120.29 493.45,120.91 495.74,121.54 498.04,122.17 500.33,122.80 502.63,123.43 504.92,124.06 507.22,124.68 509.51,125.31 511.80,125.94 514.10,126.57 516.39,127.20 518.69,127.82 520.98,128.45 523.28,129.08 525.57,129.71 527.87,130.34 530.16,130.97 532.45,131.59 534.75,132.22 537.04,132.85 539.34,133.48 541.63,134.11 543.93,134.73 546.22,135.36 548.51,135.99 550.81,136.62 553.10,137.25 555.40,137.87 557.69,138.50 559.99,139.13 562.28,139.76 564.58,140.39 566.87,141.02 569.16,141.64 571.46,142.27 573.75,142.90 576.05,143.53 578.34,144.16 580.64,144.78 582.93,145.41 585.22,146.04 587.52,146.67 589.81,147.30 592.11,147.93 594.40,148.55 596.70,149.18 598.99,149.81 601.29,150.44 603.58,151.07 605.87,151.69 608.17,152.32 610.46,152.95 612.76,153.58 615.05,154.21 617.35,154.84 619.64,155.46 621.93,156.09 624.23,156.72 626.52,157.35 628.82,157.98 631.11,158.60 633.41,159.23 635.70,159.86 638.00,160.49 640.29,161.12 642.58,161.75 644.88,162.37 647.17,163.00 649.47,163.63 651.76,164.26 654.06,164.89 656.35,165.51 658.64,166.14 660.94,166.77 663.23,167.40 665.53,168.03 667.82,168.65 670.12,169.28 672.41,169.91 674.71,170.54 677.00,171.17" stroke="#000" stroke-width="1.1" stroke-dasharray="1 0.8 2 1.2" fill="none"/>
<path d="M78.20 278.55H83.40V430.00H78.20M78.20 303.79H83.40M78.20 329.03H83.40M78.20 354.27H83.40M78.20 379.52H83.40M78.20 404.76H83.40" stroke="#000" stroke-width="1.5" fill="none" stroke-linejoin="miter"/>
<text x="77.50" y="282.65" class="tl" text-anchor="end"><tspan class="one">1</tspan>000</text>
<text x="77.50" y="307.89" class="tl" text-anchor="end"><tspan class="one">1</tspan>00</text>
<text x="77.50" y="333.13" class="tl" text-anchor="end"><tspan class="one">1</tspan>0</text>
<text x="77.50" y="358.38" class="tl" text-anchor="end"><tspan class="one">1</tspan></text>
<text x="77.50" y="383.62" class="tl" text-anchor="end">0.<tspan class="one">1</tspan></text>
<text x="77.50" y="408.86" class="tl" text-anchor="end">0.0<tspan class="one">1</tspan></text>
<text x="77.50" y="434.10" class="tl" text-anchor="end">0.00<tspan class="one">1</tspan></text>
<path d="M99.74 452.00V446.80H335.20V452.00M138.98 446.80V452.00M178.23 446.80V452.00M217.47 446.80V452.00M256.71 446.80V452.00M295.96 446.80V452.00" stroke="#000" stroke-width="1.5" fill="none"/>
<text x="99.74" y="465.00" class="tl" text-anchor="middle" dx="0.4">0</text>
<text x="138.98" y="465.00" class="tl" text-anchor="middle" dx="0.4">4</text>
<text x="178.23" y="465.00" class="tl" text-anchor="middle" dx="0.4">8</text>
<text x="217.47" y="465.00" class="tl" text-anchor="middle" dx="0.4"><tspan class="one">1</tspan>2</text>
<text x="256.71" y="465.00" class="tl" text-anchor="middle" dx="0.4"><tspan class="one">1</tspan>6</text>
<text x="295.96" y="465.00" class="tl" text-anchor="middle" dx="0.4">20</text>
<text x="335.20" y="465.00" class="tl" text-anchor="middle" dx="0.4">24</text>
<text x="154.00" y="265.90" class="tt">(c) 10 mg iv</text>
<circle cx="100.3" cy="287.0" r="3.5" fill="#e42a24"/>
<circle cx="100.2" cy="292.0" r="3.5" fill="#e42a24"/>
<circle cx="100.6" cy="298.3" r="3.5" fill="#e42a24"/>
<circle cx="103.5" cy="306.1" r="3.5" fill="#e42a24"/>
<circle cx="106.4" cy="311.7" r="3.5" fill="#e42a24"/>
<circle cx="109.5" cy="316.6" r="3.5" fill="#e42a24"/>
<circle cx="115.1" cy="324.7" r="3.5" fill="#e42a24"/>
<circle cx="118.8" cy="330.8" r="3.5" fill="#e42a24"/>
<circle cx="128.3" cy="337.4" r="3.5" fill="#e42a24"/>
<circle cx="138.7" cy="341.9" r="3.5" fill="#e42a24"/>
<circle cx="157.5" cy="348.3" r="3.5" fill="#e42a24"/>
<circle cx="178.9" cy="353.8" r="3.5" fill="#e42a24"/>
<polyline points="101.20,286.20 101.45,291.55 101.70,291.88 101.95,292.21 102.20,292.54 102.45,292.87 102.70,293.20 102.95,293.53 103.20,293.86 103.45,294.19 103.70,294.51 103.95,294.84 104.20,295.17 104.45,295.49 104.70,295.82 104.95,296.14 105.20,296.46 105.45,296.79 105.70,297.11 105.95,297.43 106.20,297.75 106.45,298.07 106.70,298.39 106.95,298.71 107.20,299.03 107.45,299.34 107.70,299.66 107.95,299.97 108.20,300.29 108.45,300.60 108.70,300.92 108.95,301.23 109.20,301.54 109.45,301.85 109.70,302.16 109.95,302.47 110.20,302.77 110.45,303.08 110.70,303.39 110.95,303.69 111.20,303.99 111.45,304.30 111.70,304.60 111.95,304.90 112.20,305.20 112.45,305.49 112.70,305.79 112.95,306.09 113.20,306.38 113.45,306.67 113.70,306.96 113.95,307.25 114.20,307.54 114.45,307.83 114.70,308.12 114.95,308.40 115.20,308.69 115.45,308.97 115.70,309.25 115.95,309.53 116.20,309.81 116.45,310.09 116.70,310.36 116.95,310.63 117.20,310.91 117.45,311.18 117.70,311.45 117.95,311.71 118.20,311.98 118.45,312.24 118.70,312.51 118.95,312.77 119.20,313.03 119.45,313.29 119.70,313.54 119.95,313.80 120.20,314.05 120.45,314.30 120.70,314.55 120.95,314.80 121.20,315.04 121.45,315.29 121.70,315.53 121.95,315.77 122.20,316.01 122.45,316.24 122.70,316.48 122.95,316.71 123.20,316.94 123.45,317.17 123.70,317.39 123.95,317.62 124.20,317.84 124.45,318.06 124.70,318.28 124.95,318.50 125.20,318.72 125.45,318.93 125.70,319.14 125.95,319.35 126.20,319.56 126.45,319.76 126.70,319.97 126.95,320.17 127.20,320.37 127.45,320.56 127.70,320.76 127.95,320.95 128.20,321.14 128.45,321.33 128.70,321.52 128.95,321.71 129.20,321.89 129.45,322.07 129.70,322.25 129.95,322.43 130.20,322.61 130.45,322.78 130.70,322.95 130.95,323.13 131.20,323.29 131.70,323.63 133.99,325.05 136.28,326.34 138.57,327.50 140.86,328.55 143.15,329.49 145.44,330.36 147.73,331.16 150.02,331.90 152.31,332.60 154.60,333.26 156.89,333.89 159.18,334.49 161.47,335.08 163.76,335.65 166.05,336.21 168.34,336.76 170.63,337.30 172.92,337.84 175.21,338.37 177.50,338.90 179.79,339.42 182.08,339.95 184.37,340.47 186.66,340.99 188.95,341.51 191.24,342.03 193.53,342.54 195.82,343.06 198.11,343.58 200.40,344.10 202.69,344.61 204.98,345.13 207.27,345.64 209.56,346.16 211.85,346.67 214.14,347.19 216.43,347.71 218.72,348.22 221.01,348.74 223.30,349.25 225.59,349.77 227.88,350.28 230.17,350.80 232.46,351.31 234.74,351.83 237.03,352.34 239.32,352.86 241.61,353.37 243.90,353.89 246.19,354.41 248.48,354.92 250.77,355.44 253.06,355.95 255.35,356.47 257.64,356.98 259.93,357.50 262.22,358.01 264.51,358.53 266.80,359.04 269.09,359.56 271.38,360.07 273.67,360.59 275.96,361.10 278.25,361.62 280.54,362.14 282.83,362.65 285.12,363.17 287.41,363.68 289.70,364.20 291.99,364.71 294.28,365.23 296.57,365.74 298.86,366.26 301.15,366.77 303.44,367.29 305.73,367.80 308.02,368.32 310.31,368.83 312.60,369.35 314.89,369.86 317.18,370.38 319.47,370.90 321.76,371.41 324.05,371.93 326.34,372.44 328.63,372.96 330.92,373.47 333.21,373.99 335.50,374.50" stroke="#000" stroke-width="1.1" stroke-dasharray="1 0.8 2 1.2" fill="none"/>
<polyline points="101.20,286.20 101.45,289.27 101.70,289.71 101.95,290.16 102.20,290.61 102.45,291.05 102.70,291.50 102.95,291.94 103.20,292.39 103.45,292.83 103.70,293.27 103.95,293.71 104.20,294.15 104.45,294.59 104.70,295.03 104.95,295.47 105.20,295.91 105.45,296.35 105.70,296.78 105.95,297.22 106.20,297.65 106.45,298.08 106.70,298.51 106.95,298.94 107.20,299.37 107.45,299.80 107.70,300.23 107.95,300.65 108.20,301.08 108.45,301.50 108.70,301.92 108.95,302.34 109.20,302.76 109.45,303.18 109.70,303.60 109.95,304.01 110.20,304.42 110.45,304.83 110.70,305.24 110.95,305.65 111.20,306.05 111.45,306.46 111.70,306.86 111.95,307.26 112.20,307.66 112.45,308.05 112.70,308.45 112.95,308.84 113.20,309.23 113.45,309.61 113.70,310.00 113.95,310.38 114.20,310.76 114.45,311.14 114.70,311.51 114.95,311.89 115.20,312.26 115.45,312.62 115.70,312.99 115.95,313.35 116.20,313.71 116.45,314.06 116.70,314.42 116.95,314.77 117.20,315.11 117.45,315.46 117.70,315.80 117.95,316.13 118.20,316.47 118.45,316.80 118.70,317.13 118.95,317.45 119.20,317.77 119.45,318.09 119.70,318.40 119.95,318.71 120.20,319.02 120.45,319.32 120.70,319.62 120.95,319.92 121.20,320.21 121.45,320.50 121.70,320.78 121.95,321.07 122.20,321.34 122.45,321.62 122.70,321.89 122.95,322.15 123.20,322.42 123.45,322.68 123.70,322.93 123.95,323.18 124.20,323.43 124.45,323.67 124.70,323.92 124.95,324.15 125.20,324.39 125.45,324.61 125.70,324.84 125.95,325.06 126.20,325.28 126.45,325.50 126.70,325.71 126.95,325.92 127.20,326.12 127.45,326.32 127.70,326.52 127.95,326.72 128.20,326.91 128.45,327.09 128.70,327.28 128.95,327.46 129.20,327.64 129.45,327.81 129.70,327.99 129.95,328.16 130.20,328.32 130.45,328.49 130.70,328.65 130.95,328.80 131.20,328.96 131.70,329.26 133.99,330.52 136.28,331.61 138.57,332.55 140.86,333.39 143.15,334.15 145.44,334.85 147.73,335.51 150.02,336.13 152.31,336.73 154.60,337.32 156.89,337.89 159.18,338.45 161.47,339.01 163.76,339.56 166.05,340.11 168.34,340.66 170.63,341.20 172.92,341.75 175.21,342.29 177.50,342.84 179.79,343.38 182.08,343.92 184.37,344.46 186.66,345.01 188.95,345.55 191.24,346.09 193.53,346.63 195.82,347.17 198.11,347.72 200.40,348.26 202.69,348.80 204.98,349.34 207.27,349.88 209.56,350.43 211.85,350.97 214.14,351.51 216.43,352.05 218.72,352.59 221.01,353.14 223.30,353.68 225.59,354.22 227.88,354.76 230.17,355.30 232.46,355.84 234.74,356.39 237.03,356.93 239.32,357.47 241.61,358.01 243.90,358.55 246.19,359.10 248.48,359.64 250.77,360.18 253.06,360.72 255.35,361.26 257.64,361.81 259.93,362.35 262.22,362.89 264.51,363.43 266.80,363.97 269.09,364.51 271.38,365.06 273.67,365.60 275.96,366.14 278.25,366.68 280.54,367.22 282.83,367.77 285.12,368.31 287.41,368.85 289.70,369.39 291.99,369.93 294.28,370.48 296.57,371.02 298.86,371.56 301.15,372.10 303.44,372.64 305.73,373.18 308.02,373.73 310.31,374.27 312.60,374.81 314.89,375.35 317.18,375.89 319.47,376.44 321.76,376.98 324.05,377.52 326.34,378.06 328.63,378.60 330.92,379.15 333.21,379.69 335.50,380.23" stroke="#111" stroke-width="1.1" stroke-dasharray="2.6 1.2" fill="none"/>
<polyline points="101.20,286.20 101.45,287.16 101.70,288.12 101.95,289.06 102.20,290.00 102.45,290.93 102.70,291.85 102.95,292.77 103.20,293.67 103.45,294.56 103.70,295.45 103.95,296.32 104.20,297.18 104.45,298.03 104.70,298.88 104.95,299.71 105.20,300.53 105.45,301.33 105.70,302.13 105.95,302.92 106.20,303.69 106.45,304.45 106.70,305.20 106.95,305.93 107.20,306.66 107.45,307.37 107.70,308.07 107.95,308.75 108.20,309.43 108.45,310.09 108.70,310.74 108.95,311.38 109.20,312.00 109.45,312.62 109.70,313.22 109.95,313.81 110.20,314.39 110.45,314.96 110.70,315.51 110.95,316.06 111.20,316.59 111.45,317.12 111.70,317.63 111.95,318.13 112.20,318.63 112.45,319.11 112.70,319.59 112.95,320.05 113.20,320.51 113.45,320.96 113.70,321.39 113.95,321.83 114.20,322.25 114.45,322.66 114.70,323.07 114.95,323.47 115.20,323.86 115.45,324.24 115.70,324.62 115.95,324.99 116.20,325.35 116.45,325.71 116.70,326.06 116.95,326.41 117.20,326.74 117.45,327.08 117.70,327.40 117.95,327.72 118.20,328.04 118.45,328.35 118.70,328.65 118.95,328.95 119.20,329.24 119.45,329.53 119.70,329.82 119.95,330.10 120.20,330.37 120.45,330.64 120.70,330.90 120.95,331.16 121.20,331.42 121.45,331.67 121.70,331.92 121.95,332.16 122.20,332.40 122.45,332.63 122.70,332.86 122.95,333.09 123.20,333.31 123.45,333.53 123.70,333.74 123.95,333.95 124.20,334.16 124.45,334.36 124.70,334.56 124.95,334.76 125.20,334.95 125.45,335.14 125.70,335.33 125.95,335.51 126.20,335.69 126.45,335.87 126.70,336.04 126.95,336.21 127.20,336.38 127.45,336.55 127.70,336.71 127.95,336.87 128.20,337.02 128.45,337.18 128.70,337.33 128.95,337.48 129.20,337.62 129.45,337.77 129.70,337.91 129.95,338.05 130.20,338.19 130.45,338.32 130.70,338.46 130.95,338.59 131.20,338.71 131.70,338.97 133.99,340.03 136.28,340.96 138.57,341.80 140.86,342.56 143.15,343.27 145.44,343.94 147.73,344.57 150.02,345.19 152.31,345.79 154.60,346.38 156.89,346.95 159.18,347.53 161.47,348.10 163.76,348.66 166.05,349.23 168.34,349.79 170.63,350.35 172.92,350.91 175.21,351.47 177.50,352.02 179.79,352.58 182.08,353.14 184.37,353.70 186.66,354.25 188.95,354.81 191.24,355.37 193.53,355.93 195.82,356.48 198.11,357.04 200.40,357.60 202.69,358.16 204.98,358.71 207.27,359.27 209.56,359.83 211.85,360.38 214.14,360.94 216.43,361.50 218.72,362.06 221.01,362.61 223.30,363.17 225.59,363.73 227.88,364.28 230.17,364.84 232.46,365.40 234.74,365.96 237.03,366.51 239.32,367.07 241.61,367.63 243.90,368.18 246.19,368.74 248.48,369.30 250.77,369.86 253.06,370.41 255.35,370.97 257.64,371.53 259.93,372.08 262.22,372.64 264.51,373.20 266.80,373.76 269.09,374.31 271.38,374.87 273.67,375.43 275.96,375.98 278.25,376.54 280.54,377.10 282.83,377.66 285.12,378.21 287.41,378.77 289.70,379.33 291.99,379.88 294.28,380.44 296.57,381.00 298.86,381.56 301.15,382.11 303.44,382.67 305.73,383.23 308.02,383.78 310.31,384.34 312.60,384.90 314.89,385.46 317.18,386.01 319.47,386.57 321.76,387.13 324.05,387.68 326.34,388.24 328.63,388.80 330.92,389.36 333.21,389.91 335.50,390.47" stroke="#181818" stroke-width="1.15" fill="none"/>
<polyline points="101.20,286.20 101.45,288.31 101.70,290.30 101.95,292.19 102.20,293.99 102.45,295.71 102.70,297.35 102.95,298.93 103.20,300.45 103.45,301.92 103.70,303.35 103.95,304.74 104.20,306.11 104.45,307.45 104.70,308.76 104.95,310.06 105.20,311.34 105.45,312.61 105.70,313.86 105.95,315.10 106.20,316.33 106.45,317.55 106.70,318.75 106.95,319.95 107.20,321.13 107.45,322.30 107.70,323.46 107.95,324.60 108.20,325.73 108.45,326.84 108.70,327.94 108.95,329.02 109.20,330.09 109.45,331.13 109.70,332.15 109.95,333.15 110.20,334.12 110.45,335.07 110.70,336.00 110.95,336.89 111.20,337.76 111.45,338.60 111.70,339.41 111.95,340.18 112.20,340.92 112.45,341.63 112.70,342.31 112.95,342.95 113.20,343.56 113.45,344.14 113.70,344.69 113.95,345.21 114.20,345.69 114.45,346.15 114.70,346.57 114.95,346.97 115.20,347.35 115.45,347.70 115.70,348.03 115.95,348.33 116.20,348.62 116.45,348.88 116.70,349.13 116.95,349.36 117.20,349.58 117.45,349.78 117.70,349.97 117.95,350.15 118.20,350.32 118.45,350.48 118.70,350.62 118.95,350.76 119.20,350.90 119.45,351.03 119.70,351.15 119.95,351.26 120.20,351.37 120.45,351.48 120.70,351.58 120.95,351.68 121.20,351.77 121.45,351.86 121.70,351.95 121.95,352.04 122.20,352.12 122.45,352.21 122.70,352.29 122.95,352.37 123.20,352.45 123.45,352.52 123.70,352.60 123.95,352.67 124.20,352.75 124.45,352.82 124.70,352.89 124.95,352.96 125.20,353.03 125.45,353.10 125.70,353.17 125.95,353.24 126.20,353.31 126.45,353.38 126.70,353.45 126.95,353.52 127.20,353.58 127.45,353.65 127.70,353.72 127.95,353.79 128.20,353.85 128.45,353.92 128.70,353.99 128.95,354.05 129.20,354.12 129.45,354.19 129.70,354.25 129.95,354.32 130.20,354.38 130.45,354.45 130.70,354.52 130.95,354.58 131.20,354.65 131.70,354.78 133.99,355.38 136.28,355.99 138.57,356.59 140.86,357.19 143.15,357.79 145.44,358.39 147.73,358.99 150.02,359.59 152.31,360.20 154.60,360.80 156.89,361.40 159.18,362.00 161.47,362.60 163.76,363.20 166.05,363.80 168.34,364.40 170.63,365.01 172.92,365.61 175.21,366.21 177.50,366.81 179.79,367.41 182.08,368.01 184.37,368.61 186.66,369.21 188.95,369.82 191.24,370.42 193.53,371.02 195.82,371.62 198.11,372.22 200.40,372.82 202.69,373.42 204.98,374.02 207.27,374.63 209.56,375.23 211.85,375.83 214.14,376.43 216.43,377.03 218.72,377.63 221.01,378.23 223.30,378.83 225.59,379.44 227.88,380.04 230.17,380.64 232.46,381.24 234.74,381.84 237.03,382.44 239.32,383.04 241.61,383.65 243.90,384.25 246.19,384.85 248.48,385.45 250.77,386.05 253.06,386.65 255.35,387.25 257.64,387.85 259.93,388.46 262.22,389.06 264.51,389.66 266.80,390.26 269.09,390.86 271.38,391.46 273.67,392.06 275.96,392.66 278.25,393.27 280.54,393.87 282.83,394.47 285.12,395.07 287.41,395.67 289.70,396.27 291.99,396.87 294.28,397.47 296.57,398.08 298.86,398.68 301.15,399.28 303.44,399.88 305.73,400.48 308.02,401.08 310.31,401.68 312.60,402.28 314.89,402.89 317.18,403.49 319.47,404.09 321.76,404.69 324.05,405.29 326.34,405.89 328.63,406.49 330.92,407.09 333.21,407.70 335.50,408.30" stroke="#111" stroke-width="1.1" stroke-dasharray="2.6 1.2" fill="none"/>
<polyline points="101.20,286.20 101.45,288.88 101.70,291.39 101.95,293.74 102.20,295.94 102.45,298.03 102.70,300.00 102.95,301.88 103.20,303.69 103.45,305.44 103.70,307.13 103.95,308.78 104.20,310.40 104.45,311.98 104.70,313.55 104.95,315.09 105.20,316.62 105.45,318.13 105.70,319.62 105.95,321.10 106.20,322.56 106.45,324.01 106.70,325.45 106.95,326.86 107.20,328.26 107.45,329.64 107.70,331.00 107.95,332.34 108.20,333.65 108.45,334.93 108.70,336.18 108.95,337.40 109.20,338.58 109.45,339.73 109.70,340.84 109.95,341.90 110.20,342.93 110.45,343.90 110.70,344.83 110.95,345.71 111.20,346.54 111.45,347.32 111.70,348.05 111.95,348.74 112.20,349.37 112.45,349.96 112.70,350.51 112.95,351.01 113.20,351.48 113.45,351.90 113.70,352.29 113.95,352.65 114.20,352.98 114.45,353.28 114.70,353.56 114.95,353.81 115.20,354.04 115.45,354.25 115.70,354.45 115.95,354.63 116.20,354.80 116.45,354.96 116.70,355.10 116.95,355.24 117.20,355.37 117.45,355.49 117.70,355.60 117.95,355.71 118.20,355.81 118.45,355.91 118.70,356.01 118.95,356.10 119.20,356.19 119.45,356.27 119.70,356.36 119.95,356.44 120.20,356.52 120.45,356.59 120.70,356.67 120.95,356.75 121.20,356.82 121.45,356.89 121.70,356.97 121.95,357.04 122.20,357.11 122.45,357.18 122.70,357.25 122.95,357.32 123.20,357.39 123.45,357.46 123.70,357.53 123.95,357.60 124.20,357.67 124.45,357.73 124.70,357.80 124.95,357.87 125.20,357.94 125.45,358.01 125.70,358.07 125.95,358.14 126.20,358.21 126.45,358.28 126.70,358.34 126.95,358.41 127.20,358.48 127.45,358.55 127.70,358.61 127.95,358.68 128.20,358.75 128.45,358.81 128.70,358.88 128.95,358.95 129.20,359.02 129.45,359.08 129.70,359.15 129.95,359.22 130.20,359.28 130.45,359.35 130.70,359.42 130.95,359.49 131.20,359.55 131.70,359.69 133.99,360.30 136.28,360.91 138.57,361.53 140.86,362.14 143.15,362.76 145.44,363.37 147.73,363.98 150.02,364.60 152.31,365.21 154.60,365.82 156.89,366.44 159.18,367.05 161.47,367.67 163.76,368.28 166.05,368.89 168.34,369.51 170.63,370.12 172.92,370.73 175.21,371.35 177.50,371.96 179.79,372.57 182.08,373.19 184.37,373.80 186.66,374.42 188.95,375.03 191.24,375.64 193.53,376.26 195.82,376.87 198.11,377.48 200.40,378.10 202.69,378.71 204.98,379.33 207.27,379.94 209.56,380.55 211.85,381.17 214.14,381.78 216.43,382.39 218.72,383.01 221.01,383.62 223.30,384.24 225.59,384.85 227.88,385.46 230.17,386.08 232.46,386.69 234.74,387.30 237.03,387.92 239.32,388.53 241.61,389.15 243.90,389.76 246.19,390.37 248.48,390.99 250.77,391.60 253.06,392.21 255.35,392.83 257.64,393.44 259.93,394.05 262.22,394.67 264.51,395.28 266.80,395.90 269.09,396.51 271.38,397.12 273.67,397.74 275.96,398.35 278.25,398.96 280.54,399.58 282.83,400.19 285.12,400.81 287.41,401.42 289.70,402.03 291.99,402.65 294.28,403.26 296.57,403.87 298.86,404.49 301.15,405.10 303.44,405.72 305.73,406.33 308.02,406.94 310.31,407.56 312.60,408.17 314.89,408.78 317.18,409.40 319.47,410.01 321.76,410.62 324.05,411.24 326.34,411.85 328.63,412.47 330.92,413.08 333.21,413.69 335.50,414.31" stroke="#000" stroke-width="1.1" stroke-dasharray="1 0.8 2 1.2" fill="none"/>
<path d="M419.20 279.66H424.40V431.10H419.20M419.20 304.90H424.40M419.20 330.14H424.40M419.20 355.38H424.40M419.20 380.62H424.40M419.20 405.86H424.40" stroke="#000" stroke-width="1.5" fill="none" stroke-linejoin="miter"/>
<text x="418.50" y="283.76" class="tl" text-anchor="end"><tspan class="one">1</tspan>000</text>
<text x="418.50" y="309.00" class="tl" text-anchor="end"><tspan class="one">1</tspan>00</text>
<text x="418.50" y="334.24" class="tl" text-anchor="end"><tspan class="one">1</tspan>0</text>
<text x="418.50" y="359.48" class="tl" text-anchor="end"><tspan class="one">1</tspan></text>
<text x="418.50" y="384.72" class="tl" text-anchor="end">0.<tspan class="one">1</tspan></text>
<text x="418.50" y="409.96" class="tl" text-anchor="end">0.0<tspan class="one">1</tspan></text>
<text x="418.50" y="435.20" class="tl" text-anchor="end">0.00<tspan class="one">1</tspan></text>
<path d="M441.30 453.10V447.90H676.70V453.10M480.53 447.90V453.10M519.77 447.90V453.10M559.00 447.90V453.10M598.23 447.90V453.10M637.47 447.90V453.10" stroke="#000" stroke-width="1.5" fill="none"/>
<text x="441.30" y="466.10" class="tl" text-anchor="middle" dx="0.4">0</text>
<text x="480.53" y="466.10" class="tl" text-anchor="middle" dx="0.4">4</text>
<text x="519.77" y="466.10" class="tl" text-anchor="middle" dx="0.4">8</text>
<text x="559.00" y="466.10" class="tl" text-anchor="middle" dx="0.4"><tspan class="one">1</tspan>2</text>
<text x="598.23" y="466.10" class="tl" text-anchor="middle" dx="0.4"><tspan class="one">1</tspan>6</text>
<text x="637.47" y="466.10" class="tl" text-anchor="middle" dx="0.4">20</text>
<text x="676.70" y="466.10" class="tl" text-anchor="middle" dx="0.4">24</text>
<text x="495.00" y="266.70" class="tt">(d) 11.4 mg iv</text>
<circle cx="442.6" cy="288.0" r="3.5" fill="#e42a24"/>
<circle cx="443.2" cy="295.4" r="3.5" fill="#e42a24"/>
<circle cx="445.4" cy="302.3" r="3.5" fill="#e42a24"/>
<circle cx="452.1" cy="311.7" r="3.5" fill="#e42a24"/>
<circle cx="460.5" cy="325.4" r="3.5" fill="#e42a24"/>
<circle cx="470.8" cy="331.3" r="3.5" fill="#e42a24"/>
<circle cx="480.5" cy="337.2" r="3.5" fill="#e42a24"/>
<circle cx="500.3" cy="344.1" r="3.5" fill="#e42a24"/>
<circle cx="519.2" cy="348.1" r="3.5" fill="#e42a24"/>
<polyline points="442.50,285.80 442.75,286.19 443.00,286.59 443.25,286.98 443.50,287.37 443.75,287.77 444.00,288.16 444.25,288.55 444.50,288.94 444.75,289.33 445.00,289.72 445.25,290.11 445.50,290.50 445.75,290.89 446.00,291.27 446.25,291.66 446.50,292.05 446.75,292.43 447.00,292.82 447.25,293.20 447.50,293.58 447.75,293.96 448.00,294.34 448.25,294.72 448.50,295.10 448.75,295.48 449.00,295.86 449.25,296.23 449.50,296.61 449.75,296.98 450.00,297.35 450.25,297.72 450.50,298.09 450.75,298.46 451.00,298.83 451.25,299.20 451.50,299.56 451.75,299.93 452.00,300.29 452.25,300.65 452.50,301.01 452.75,301.37 453.00,301.73 453.25,302.09 453.50,302.44 453.75,302.79 454.00,303.14 454.25,303.49 454.50,303.84 454.75,304.19 455.00,304.53 455.25,304.88 455.50,305.22 455.75,305.56 456.00,305.89 456.25,306.23 456.50,306.56 456.75,306.90 457.00,307.23 457.25,307.55 457.50,307.88 457.75,308.20 458.00,308.53 458.25,308.84 458.50,309.16 458.75,309.48 459.00,309.79 459.25,310.10 459.50,310.41 459.75,310.72 460.00,311.02 460.25,311.32 460.50,311.62 460.75,311.92 461.00,312.21 461.25,312.50 461.50,312.79 461.75,313.08 462.00,313.36 462.25,313.64 462.50,313.92 462.75,314.20 463.00,314.47 463.25,314.74 463.50,315.01 463.75,315.27 464.00,315.53 464.25,315.79 464.50,316.05 464.75,316.31 465.00,316.56 465.25,316.81 465.50,317.05 465.75,317.29 466.00,317.54 466.25,317.77 466.50,318.01 466.75,318.24 467.00,318.47 467.25,318.69 467.50,318.92 467.75,319.14 468.00,319.36 468.25,319.57 468.50,319.79 468.75,320.00 469.00,320.20 469.25,320.41 469.50,320.61 469.75,320.81 470.00,321.00 470.25,321.20 470.50,321.39 470.75,321.58 471.00,321.76 471.25,321.95 471.50,322.13 471.75,322.31 472.00,322.48 472.25,322.65 472.50,322.83 473.00,323.16 475.29,324.58 477.58,325.83 479.88,326.93 482.17,327.91 484.46,328.80 486.75,329.61 489.04,330.35 491.34,331.05 493.63,331.72 495.92,332.35 498.21,332.97 500.51,333.57 502.80,334.15 505.09,334.73 507.38,335.30 509.67,335.86 511.97,336.42 514.26,336.97 516.55,337.52 518.84,338.07 521.13,338.62 523.43,339.17 525.72,339.71 528.01,340.25 530.30,340.79 532.60,341.33 534.89,341.87 537.18,342.41 539.47,342.95 541.76,343.48 544.06,344.02 546.35,344.55 548.64,345.09 550.93,345.62 553.22,346.15 555.52,346.68 557.81,347.21 560.10,347.74 562.39,348.27 564.69,348.80 566.98,349.32 569.27,349.85 571.56,350.37 573.85,350.90 576.15,351.42 578.44,351.94 580.73,352.46 583.02,352.98 585.31,353.50 587.61,354.02 589.90,354.54 592.19,355.06 594.48,355.58 596.78,356.09 599.07,356.61 601.36,357.12 603.65,357.64 605.94,358.15 608.24,358.66 610.53,359.18 612.82,359.69 615.11,360.20 617.40,360.71 619.70,361.22 621.99,361.73 624.28,362.23 626.57,362.74 628.87,363.25 631.16,363.76 633.45,364.26 635.74,364.77 638.03,365.27 640.33,365.77 642.62,366.28 644.91,366.78 647.20,367.28 649.49,367.78 651.79,368.28 654.08,368.78 656.37,369.28 658.66,369.78 660.96,370.28 663.25,370.78 665.54,371.28 667.83,371.78 670.12,372.27 672.42,372.77 674.71,373.26 677.00,373.76" stroke="#000" stroke-width="1.1" stroke-dasharray="1 0.8 2 1.2" fill="none"/>
<polyline points="442.50,285.80 442.75,288.92 443.00,289.31 443.25,289.71 443.50,290.11 443.75,290.50 444.00,290.90 444.25,291.29 444.50,291.69 444.75,292.08 445.00,292.47 445.25,292.86 445.50,293.26 445.75,293.65 446.00,294.04 446.25,294.43 446.50,294.82 446.75,295.20 447.00,295.59 447.25,295.98 447.50,296.36 447.75,296.75 448.00,297.13 448.25,297.52 448.50,297.90 448.75,298.28 449.00,298.66 449.25,299.04 449.50,299.42 449.75,299.80 450.00,300.17 450.25,300.55 450.50,300.92 450.75,301.30 451.00,301.67 451.25,302.04 451.50,302.41 451.75,302.78 452.00,303.15 452.25,303.52 452.50,303.88 452.75,304.25 453.00,304.61 453.25,304.97 453.50,305.33 453.75,305.69 454.00,306.04 454.25,306.40 454.50,306.75 454.75,307.10 455.00,307.45 455.25,307.80 455.50,308.15 455.75,308.50 456.00,308.84 456.25,309.18 456.50,309.52 456.75,309.86 457.00,310.20 457.25,310.53 457.50,310.86 457.75,311.19 458.00,311.52 458.25,311.85 458.50,312.17 458.75,312.49 459.00,312.81 459.25,313.13 459.50,313.44 459.75,313.76 460.00,314.07 460.25,314.38 460.50,314.68 460.75,314.99 461.00,315.29 461.25,315.58 461.50,315.88 461.75,316.17 462.00,316.47 462.25,316.75 462.50,317.04 462.75,317.32 463.00,317.60 463.25,317.88 463.50,318.16 463.75,318.43 464.00,318.70 464.25,318.96 464.50,319.23 464.75,319.49 465.00,319.75 465.25,320.00 465.50,320.26 465.75,320.51 466.00,320.75 466.25,321.00 466.50,321.24 466.75,321.48 467.00,321.71 467.25,321.95 467.50,322.18 467.75,322.41 468.00,322.63 468.25,322.85 468.50,323.07 468.75,323.29 469.00,323.50 469.25,323.71 469.50,323.92 469.75,324.12 470.00,324.32 470.25,324.52 470.50,324.72 470.75,324.91 471.00,325.10 471.25,325.29 471.50,325.48 471.75,325.66 472.00,325.84 472.25,326.02 472.50,326.20 473.00,326.54 475.29,327.99 477.58,329.27 479.88,330.39 482.17,331.38 484.46,332.26 486.75,333.07 489.04,333.81 491.34,334.50 493.63,335.16 495.92,335.78 498.21,336.38 500.51,336.97 502.80,337.54 505.09,338.11 507.38,338.67 509.67,339.22 511.97,339.77 514.26,340.32 516.55,340.86 518.84,341.40 521.13,341.94 523.43,342.48 525.72,343.02 528.01,343.56 530.30,344.10 532.60,344.64 534.89,345.18 537.18,345.72 539.47,346.26 541.76,346.80 544.06,347.33 546.35,347.87 548.64,348.41 550.93,348.95 553.22,349.49 555.52,350.02 557.81,350.56 560.10,351.10 562.39,351.64 564.69,352.18 566.98,352.71 569.27,353.25 571.56,353.79 573.85,354.33 576.15,354.87 578.44,355.40 580.73,355.94 583.02,356.48 585.31,357.02 587.61,357.55 589.90,358.09 592.19,358.63 594.48,359.17 596.78,359.71 599.07,360.24 601.36,360.78 603.65,361.32 605.94,361.86 608.24,362.40 610.53,362.93 612.82,363.47 615.11,364.01 617.40,364.55 619.70,365.09 621.99,365.62 624.28,366.16 626.57,366.70 628.87,367.24 631.16,367.78 633.45,368.31 635.74,368.85 638.03,369.39 640.33,369.93 642.62,370.47 644.91,371.00 647.20,371.54 649.49,372.08 651.79,372.62 654.08,373.16 656.37,373.69 658.66,374.23 660.96,374.77 663.25,375.31 665.54,375.85 667.83,376.38 670.12,376.92 672.42,377.46 674.71,378.00 677.00,378.53" stroke="#111" stroke-width="1.1" stroke-dasharray="2.6 1.2" fill="none"/>
<polyline points="442.50,285.80 442.75,291.55 443.00,293.02 443.25,293.70 443.50,294.27 443.75,294.82 444.00,295.37 444.25,295.92 444.50,296.47 444.75,297.01 445.00,297.56 445.25,298.10 445.50,298.65 445.75,299.19 446.00,299.73 446.25,300.28 446.50,300.82 446.75,301.35 447.00,301.89 447.25,302.43 447.50,302.97 447.75,303.50 448.00,304.03 448.25,304.57 448.50,305.10 448.75,305.63 449.00,306.15 449.25,306.68 449.50,307.20 449.75,307.73 450.00,308.25 450.25,308.77 450.50,309.28 450.75,309.80 451.00,310.31 451.25,310.82 451.50,311.33 451.75,311.84 452.00,312.34 452.25,312.84 452.50,313.34 452.75,313.84 453.00,314.33 453.25,314.83 453.50,315.31 453.75,315.80 454.00,316.28 454.25,316.76 454.50,317.24 454.75,317.71 455.00,318.18 455.25,318.64 455.50,319.10 455.75,319.56 456.00,320.02 456.25,320.47 456.50,320.91 456.75,321.35 457.00,321.79 457.25,322.22 457.50,322.65 457.75,323.08 458.00,323.50 458.25,323.91 458.50,324.32 458.75,324.72 459.00,325.12 459.25,325.52 459.50,325.91 459.75,326.29 460.00,326.67 460.25,327.04 460.50,327.41 460.75,327.77 461.00,328.13 461.25,328.48 461.50,328.83 461.75,329.17 462.00,329.50 462.25,329.83 462.50,330.15 462.75,330.47 463.00,330.78 463.25,331.08 463.50,331.38 463.75,331.68 464.00,331.97 464.25,332.25 464.50,332.52 464.75,332.80 465.00,333.06 465.25,333.32 465.50,333.58 465.75,333.82 466.00,334.07 466.25,334.31 466.50,334.54 466.75,334.77 467.00,334.99 467.25,335.21 467.50,335.42 467.75,335.63 468.00,335.83 468.25,336.03 468.50,336.22 468.75,336.41 469.00,336.60 469.25,336.78 469.50,336.96 469.75,337.13 470.00,337.30 470.25,337.46 470.50,337.62 470.75,337.78 471.00,337.94 471.25,338.09 471.50,338.23 471.75,338.38 472.00,338.52 472.25,338.66 472.50,338.79 473.00,339.05 475.29,340.12 477.58,341.03 479.88,341.82 482.17,342.54 484.46,343.20 486.75,343.82 489.04,344.42 491.34,345.01 493.63,345.58 495.92,346.15 498.21,346.72 500.51,347.28 502.80,347.84 505.09,348.39 507.38,348.95 509.67,349.51 511.97,350.06 514.26,350.62 516.55,351.17 518.84,351.73 521.13,352.28 523.43,352.84 525.72,353.39 528.01,353.95 530.30,354.50 532.60,355.06 534.89,355.62 537.18,356.17 539.47,356.73 541.76,357.28 544.06,357.84 546.35,358.39 548.64,358.95 550.93,359.50 553.22,360.06 555.52,360.61 557.81,361.17 560.10,361.72 562.39,362.28 564.69,362.83 566.98,363.39 569.27,363.94 571.56,364.50 573.85,365.05 576.15,365.61 578.44,366.16 580.73,366.72 583.02,367.27 585.31,367.83 587.61,368.38 589.90,368.94 592.19,369.49 594.48,370.05 596.78,370.60 599.07,371.16 601.36,371.71 603.65,372.27 605.94,372.82 608.24,373.38 610.53,373.93 612.82,374.49 615.11,375.04 617.40,375.60 619.70,376.15 621.99,376.71 624.28,377.26 626.57,377.82 628.87,378.37 631.16,378.93 633.45,379.48 635.74,380.04 638.03,380.60 640.33,381.15 642.62,381.71 644.91,382.26 647.20,382.82 649.49,383.37 651.79,383.93 654.08,384.48 656.37,385.04 658.66,385.59 660.96,386.15 663.25,386.70 665.54,387.26 667.83,387.81 670.12,388.37 672.42,388.92 674.71,389.48 677.00,390.03" stroke="#181818" stroke-width="1.15" fill="none"/>
<polyline points="442.50,285.81 442.75,287.17 443.00,288.53 443.25,289.89 443.50,291.25 443.75,292.61 444.00,293.97 444.25,295.32 444.50,296.68 444.75,298.03 445.00,299.38 445.25,300.73 445.50,302.07 445.75,303.41 446.00,304.75 446.25,306.09 446.50,307.42 446.75,308.75 447.00,310.07 447.25,311.39 447.50,312.70 447.75,314.00 448.00,315.30 448.25,316.59 448.50,317.87 448.75,319.14 449.00,320.39 449.25,321.64 449.50,322.87 449.75,324.08 450.00,325.28 450.25,326.46 450.50,327.63 450.75,328.76 451.00,329.88 451.25,330.97 451.50,332.04 451.75,333.08 452.00,334.09 452.25,335.06 452.50,336.01 452.75,336.92 453.00,337.80 453.25,338.63 453.50,339.44 453.75,340.20 454.00,340.93 454.25,341.62 454.50,342.27 454.75,342.88 455.00,343.46 455.25,344.01 455.50,344.51 455.75,344.99 456.00,345.43 456.25,345.85 456.50,346.24 456.75,346.59 457.00,346.93 457.25,347.24 457.50,347.53 457.75,347.80 458.00,348.05 458.25,348.29 458.50,348.51 458.75,348.71 459.00,348.90 459.25,349.08 459.50,349.26 459.75,349.42 460.00,349.57 460.25,349.71 460.50,349.85 460.75,349.98 461.00,350.11 461.25,350.23 461.50,350.34 461.75,350.45 462.00,350.56 462.25,350.66 462.50,350.76 462.75,350.86 463.00,350.96 463.25,351.05 463.50,351.15 463.75,351.24 464.00,351.32 464.25,351.41 464.50,351.50 464.75,351.58 465.00,351.67 465.25,351.75 465.50,351.83 465.75,351.91 466.00,351.99 466.25,352.07 466.50,352.15 466.75,352.23 467.00,352.31 467.25,352.39 467.50,352.47 467.75,352.55 468.00,352.62 468.25,352.70 468.50,352.78 468.75,352.85 469.00,352.93 469.25,353.00 469.50,353.08 469.75,353.16 470.00,353.23 470.25,353.31 470.50,353.38 470.75,353.46 471.00,353.53 471.25,353.61 471.50,353.68 471.75,353.75 472.00,353.83 472.25,353.90 472.50,353.98 473.00,354.12 475.29,354.80 477.58,355.46 479.88,356.12 482.17,356.77 484.46,357.42 486.75,358.06 489.04,358.70 491.34,359.34 493.63,359.97 495.92,360.60 498.21,361.23 500.51,361.86 502.80,362.48 505.09,363.10 507.38,363.72 509.67,364.34 511.97,364.95 514.26,365.57 516.55,366.18 518.84,366.80 521.13,367.41 523.43,368.02 525.72,368.63 528.01,369.24 530.30,369.85 532.60,370.45 534.89,371.06 537.18,371.67 539.47,372.27 541.76,372.88 544.06,373.49 546.35,374.09 548.64,374.70 550.93,375.30 553.22,375.91 555.52,376.51 557.81,377.11 560.10,377.72 562.39,378.32 564.69,378.93 566.98,379.53 569.27,380.13 571.56,380.74 573.85,381.34 576.15,381.94 578.44,382.55 580.73,383.15 583.02,383.75 585.31,384.36 587.61,384.96 589.90,385.56 592.19,386.17 594.48,386.77 596.78,387.37 599.07,387.98 601.36,388.58 603.65,389.18 605.94,389.78 608.24,390.39 610.53,390.99 612.82,391.59 615.11,392.19 617.40,392.80 619.70,393.40 621.99,394.00 624.28,394.61 626.57,395.21 628.87,395.81 631.16,396.41 633.45,397.02 635.74,397.62 638.03,398.22 640.33,398.82 642.62,399.43 644.91,400.03 647.20,400.63 649.49,401.23 651.79,401.84 654.08,402.44 656.37,403.04 658.66,403.65 660.96,404.25 663.25,404.85 665.54,405.45 667.83,406.06 670.12,406.66 672.42,407.26 674.71,407.86 677.00,408.47" stroke="#111" stroke-width="1.1" stroke-dasharray="2.6 1.2" fill="none"/>
<polyline points="442.50,285.80 442.75,289.09 443.00,291.61 443.25,293.67 443.50,295.48 443.75,297.15 444.00,298.76 444.25,300.32 444.50,301.87 444.75,303.42 445.00,304.95 445.25,306.48 445.50,308.01 445.75,309.53 446.00,311.05 446.25,312.57 446.50,314.08 446.75,315.58 447.00,317.08 447.25,318.58 447.50,320.07 447.75,321.55 448.00,323.02 448.25,324.48 448.50,325.92 448.75,327.36 449.00,328.78 449.25,330.18 449.50,331.57 449.75,332.94 450.00,334.28 450.25,335.60 450.50,336.89 450.75,338.15 451.00,339.38 451.25,340.58 451.50,341.73 451.75,342.85 452.00,343.92 452.25,344.96 452.50,345.94 452.75,346.88 453.00,347.76 453.25,348.60 453.50,349.39 453.75,350.13 454.00,350.82 454.25,351.46 454.50,352.06 454.75,352.61 455.00,353.11 455.25,353.58 455.50,354.01 455.75,354.40 456.00,354.76 456.25,355.09 456.50,355.39 456.75,355.67 457.00,355.92 457.25,356.16 457.50,356.37 457.75,356.57 458.00,356.75 458.25,356.92 458.50,357.07 458.75,357.22 459.00,357.35 459.25,357.48 459.50,357.60 459.75,357.72 460.00,357.82 460.25,357.93 460.50,358.03 460.75,358.12 461.00,358.21 461.25,358.30 461.50,358.38 461.75,358.47 462.00,358.55 462.25,358.63 462.50,358.71 462.75,358.78 463.00,358.86 463.25,358.93 463.50,359.01 463.75,359.08 464.00,359.15 464.25,359.22 464.50,359.29 464.75,359.36 465.00,359.43 465.25,359.50 465.50,359.57 465.75,359.64 466.00,359.71 466.25,359.78 466.50,359.85 466.75,359.91 467.00,359.98 467.25,360.05 467.50,360.12 467.75,360.18 468.00,360.25 468.25,360.32 468.50,360.39 468.75,360.45 469.00,360.52 469.25,360.59 469.50,360.66 469.75,360.72 470.00,360.79 470.25,360.86 470.50,360.93 470.75,360.99 471.00,361.06 471.25,361.13 471.50,361.19 471.75,361.26 472.00,361.33 472.25,361.40 472.50,361.46 473.00,361.60 475.29,362.21 477.58,362.83 479.88,363.44 482.17,364.05 484.46,364.67 486.75,365.28 489.04,365.90 491.34,366.51 493.63,367.13 495.92,367.74 498.21,368.35 500.51,368.97 502.80,369.58 505.09,370.20 507.38,370.81 509.67,371.43 511.97,372.04 514.26,372.66 516.55,373.27 518.84,373.88 521.13,374.50 523.43,375.11 525.72,375.73 528.01,376.34 530.30,376.96 532.60,377.57 534.89,378.18 537.18,378.80 539.47,379.41 541.76,380.03 544.06,380.64 546.35,381.26 548.64,381.87 550.93,382.49 553.22,383.10 555.52,383.71 557.81,384.33 560.10,384.94 562.39,385.56 564.69,386.17 566.98,386.79 569.27,387.40 571.56,388.01 573.85,388.63 576.15,389.24 578.44,389.86 580.73,390.47 583.02,391.09 585.31,391.70 587.61,392.32 589.90,392.93 592.19,393.54 594.48,394.16 596.78,394.77 599.07,395.39 601.36,396.00 603.65,396.62 605.94,397.23 608.24,397.84 610.53,398.46 612.82,399.07 615.11,399.69 617.40,400.30 619.70,400.92 621.99,401.53 624.28,402.15 626.57,402.76 628.87,403.37 631.16,403.99 633.45,404.60 635.74,405.22 638.03,405.83 640.33,406.45 642.62,407.06 644.91,407.67 647.20,408.29 649.49,408.90 651.79,409.52 654.08,410.13 656.37,410.75 658.66,411.36 660.96,411.98 663.25,412.59 665.54,413.20 667.83,413.82 670.12,414.43 672.42,415.05 674.71,415.66 677.00,416.28" stroke="#000" stroke-width="1.1" stroke-dasharray="1 0.8 2 1.2" fill="none"/>
<text class="at" transform="translate(13.8,353.5) rotate(-90)">Systemic Concentration [ng/mL]</text>
<text class="at" x="352.5" y="499.8">Time [h]</text>
<g fill="#000"><path d="M525 0H805V1409H590Q520 1300 400 1215Q300 1150 190 1115V885Q300 920 390 975Q460 1020 525 1070Z" transform="translate(49.906,29.200) scale(0.006055,-0.006055)"/><path d="M525 0H805V1409H590Q520 1300 400 1215Q300 1150 190 1115V885Q300 920 390 975Q460 1020 525 1070Z" transform="translate(56.797,54.480) scale(0.006055,-0.006055)"/><path d="M525 0H805V1409H590Q520 1300 400 1215Q300 1150 190 1115V885Q300 920 390 975Q460 1020 525 1070Z" transform="translate(63.688,79.770) scale(0.006055,-0.006055)"/><path d="M525 0H805V1409H590Q520 1300 400 1215Q300 1150 190 1115V885Q300 920 390 975Q460 1020 525 1070Z" transform="translate(70.594,105.050) scale(0.006055,-0.006055)"/><path d="M525 0H805V1409H590Q520 1300 400 1215Q300 1150 190 1115V885Q300 920 390 975Q460 1020 525 1070Z" transform="translate(70.594,130.330) scale(0.006055,-0.006055)"/><path d="M525 0H805V1409H590Q520 1300 400 1215Q300 1150 190 1115V885Q300 920 390 975Q460 1020 525 1070Z" transform="translate(70.594,155.620) scale(0.006055,-0.006055)"/><path d="M525 0H805V1409H590Q520 1300 400 1215Q300 1150 190 1115V885Q300 920 390 975Q460 1020 525 1070Z" transform="translate(70.594,180.900) scale(0.006055,-0.006055)"/><path d="M525 0H805V1409H590Q520 1300 400 1215Q300 1150 190 1115V885Q300 920 390 975Q460 1020 525 1070Z" transform="translate(211.994,212.100) scale(0.006055,-0.006055)"/><path d="M525 0H805V1409H590Q520 1300 400 1215Q300 1150 190 1115V885Q300 920 390 975Q460 1020 525 1070Z" transform="translate(251.464,212.100) scale(0.006055,-0.006055)"/><path d="M525 0H805V1409H590Q520 1300 400 1215Q300 1150 190 1115V885Q300 920 390 975Q460 1020 525 1070Z" transform="translate(390.906,30.700) scale(0.006055,-0.006055)"/><path d="M525 0H805V1409H590Q520 1300 400 1215Q300 1150 190 1115V885Q300 920 390 975Q460 1020 525 1070Z" transform="translate(397.797,55.870) scale(0.006055,-0.006055)"/><path d="M525 0H805V1409H590Q520 1300 400 1215Q300 1150 190 1115V885Q300 920 390 975Q460 1020 525 1070Z" transform="translate(404.688,81.030) scale(0.006055,-0.006055)"/><path d="M525 0H805V1409H590Q520 1300 400 1215Q300 1150 190 1115V885Q300 920 390 975Q460 1020 525 1070Z" transform="translate(411.594,106.200) scale(0.006055,-0.006055)"/><path d="M525 0H805V1409H590Q520 1300 400 1215Q300 1150 190 1115V885Q300 920 390 975Q460 1020 525 1070Z" transform="translate(411.594,131.370) scale(0.006055,-0.006055)"/><path d="M525 0H805V1409H590Q520 1300 400 1215Q300 1150 190 1115V885Q300 920 390 975Q460 1020 525 1070Z" transform="translate(411.594,156.530) scale(0.006055,-0.006055)"/><path d="M525 0H805V1409H590Q520 1300 400 1215Q300 1150 190 1115V885Q300 920 390 975Q460 1020 525 1070Z" transform="translate(411.594,181.700) scale(0.006055,-0.006055)"/><path d="M525 0H805V1409H590Q520 1300 400 1215Q300 1150 190 1115V885Q300 920 390 975Q460 1020 525 1070Z" transform="translate(552.494,212.900) scale(0.006055,-0.006055)"/><path d="M525 0H805V1409H590Q520 1300 400 1215Q300 1150 190 1115V885Q300 920 390 975Q460 1020 525 1070Z" transform="translate(591.724,212.900) scale(0.006055,-0.006055)"/><path d="M525 0H805V1409H590Q520 1300 400 1215Q300 1150 190 1115V885Q300 920 390 975Q460 1020 525 1070Z" transform="translate(49.906,282.650) scale(0.006055,-0.006055)"/><path d="M525 0H805V1409H590Q520 1300 400 1215Q300 1150 190 1115V885Q300 920 390 975Q460 1020 525 1070Z" transform="translate(56.797,307.890) scale(0.006055,-0.006055)"/><path d="M525 0H805V1409H590Q520 1300 400 1215Q300 1150 190 1115V885Q300 920 390 975Q460 1020 525 1070Z" transform="translate(63.688,333.130) scale(0.006055,-0.006055)"/><path d="M525 0H805V1409H590Q520 1300 400 1215Q300 1150 190 1115V885Q300 920 390 975Q460 1020 525 1070Z" transform="translate(70.594,358.380) scale(0.006055,-0.006055)"/><path d="M525 0H805V1409H590Q520 1300 400 1215Q300 1150 190 1115V885Q300 920 390 975Q460 1020 525 1070Z" transform="translate(70.594,383.620) scale(0.006055,-0.006055)"/><path d="M525 0H805V1409H590Q520 1300 400 1215Q300 1150 190 1115V885Q300 920 390 975Q460 1020 525 1070Z" transform="translate(70.594,408.860) scale(0.006055,-0.006055)"/><path d="M525 0H805V1409H590Q520 1300 400 1215Q300 1150 190 1115V885Q300 920 390 975Q460 1020 525 1070Z" transform="translate(70.594,434.100) scale(0.006055,-0.006055)"/><path d="M525 0H805V1409H590Q520 1300 400 1215Q300 1150 190 1115V885Q300 920 390 975Q460 1020 525 1070Z" transform="translate(210.964,465.000) scale(0.006055,-0.006055)"/><path d="M525 0H805V1409H590Q520 1300 400 1215Q300 1150 190 1115V885Q300 920 390 975Q460 1020 525 1070Z" transform="translate(250.204,465.000) scale(0.006055,-0.006055)"/><path d="M525 0H805V1409H590Q520 1300 400 1215Q300 1150 190 1115V885Q300 920 390 975Q460 1020 525 1070Z" transform="translate(390.906,283.760) scale(0.006055,-0.006055)"/><path d="M525 0H805V1409H590Q520 1300 400 1215Q300 1150 190 1115V885Q300 920 390 975Q460 1020 525 1070Z" transform="translate(397.797,309.000) scale(0.006055,-0.006055)"/><path d="M525 0H805V1409H590Q520 1300 400 1215Q300 1150 190 1115V885Q300 920 390 975Q460 1020 525 1070Z" transform="translate(404.688,334.240) scale(0.006055,-0.006055)"/><path d="M525 0H805V1409H590Q520 1300 400 1215Q300 1150 190 1115V885Q300 920 390 975Q460 1020 525 1070Z" transform="translate(411.594,359.480) scale(0.006055,-0.006055)"/><path d="M525 0H805V1409H590Q520 1300 400 1215Q300 1150 190 1115V885Q300 920 390 975Q460 1020 525 1070Z" transform="translate(411.594,384.720) scale(0.006055,-0.006055)"/><path d="M525 0H805V1409H590Q520 1300 400 1215Q300 1150 190 1115V885Q300 920 390 975Q460 1020 525 1070Z" transform="translate(411.594,409.960) scale(0.006055,-0.006055)"/><path d="M525 0H805V1409H590Q520 1300 400 1215Q300 1150 190 1115V885Q300 920 390 975Q460 1020 525 1070Z" transform="translate(411.594,435.200) scale(0.006055,-0.006055)"/><path d="M525 0H805V1409H590Q520 1300 400 1215Q300 1150 190 1115V885Q300 920 390 975Q460 1020 525 1070Z" transform="translate(552.494,466.100) scale(0.006055,-0.006055)"/><path d="M525 0H805V1409H590Q520 1300 400 1215Q300 1150 190 1115V885Q300 920 390 975Q460 1020 525 1070Z" transform="translate(591.724,466.100) scale(0.006055,-0.006055)"/></g>
</svg>
</body></html>
